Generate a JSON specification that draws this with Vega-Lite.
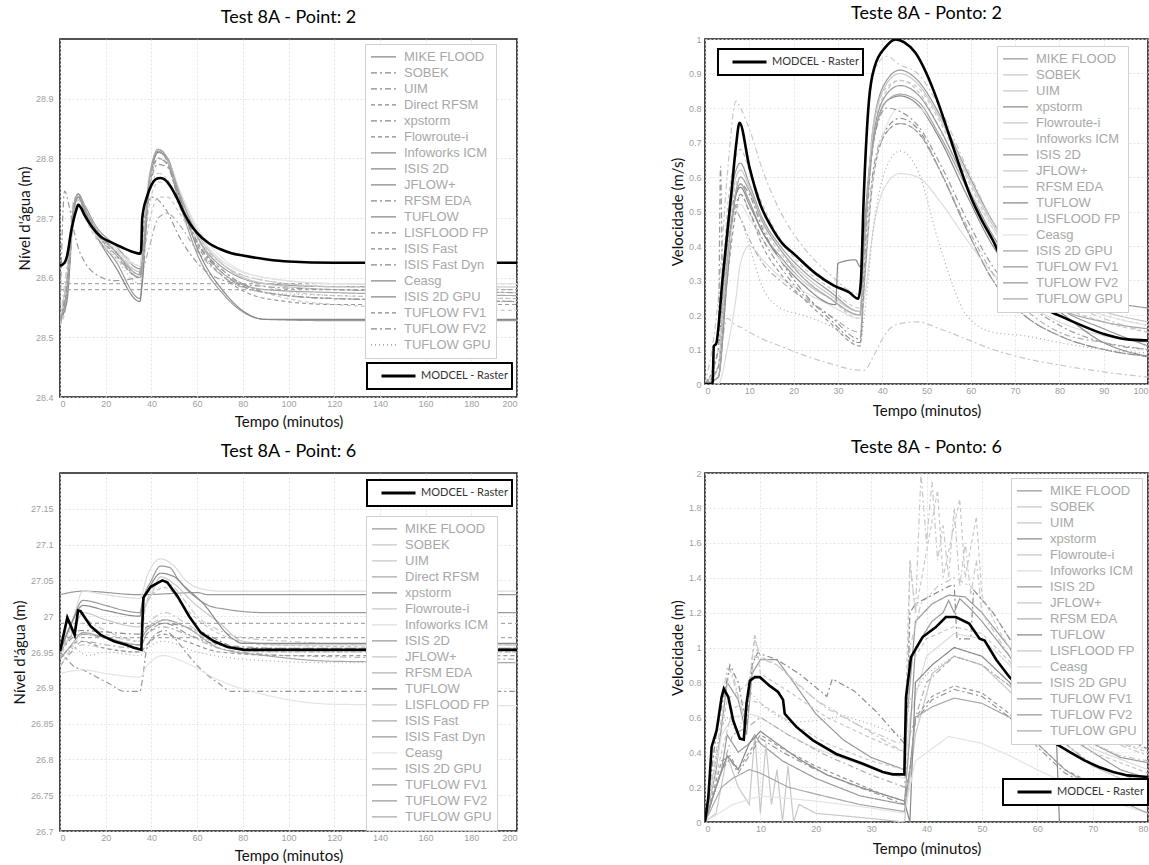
{
"$schema":"https://vega.github.io/schema/vega-lite/v6.json",
"padding":{"left":11,"top":4,"right":0,"bottom":0},
"columns":2,
"spacing":{"row":8,"column":151},
"datasets":{
"p1":[
{"m":"MIKE FLOOD","t":0,"v":28.52},{"m":"MIKE FLOOD","t":3,"v":28.58},{"m":"MIKE FLOOD","t":6,"v":28.72},{"m":"MIKE FLOOD","t":8,"v":28.74},{"m":"MIKE FLOOD","t":11,"v":28.72},{"m":"MIKE FLOOD","t":16,"v":28.685},{"m":"MIKE FLOOD","t":24,"v":28.655},{"m":"MIKE FLOOD","t":35,"v":28.615},{"m":"MIKE FLOOD","t":36,"v":28.64},{"m":"MIKE FLOOD","t":39,"v":28.76},{"m":"MIKE FLOOD","t":43,"v":28.815},{"m":"MIKE FLOOD","t":47,"v":28.8},{"m":"MIKE FLOOD","t":52,"v":28.745},{"m":"MIKE FLOOD","t":60,"v":28.67},{"m":"MIKE FLOOD","t":72,"v":28.615},{"m":"MIKE FLOOD","t":90,"v":28.59},{"m":"MIKE FLOOD","t":120,"v":28.585},{"m":"MIKE FLOOD","t":200,"v":28.585},
{"m":"SOBEK","t":0,"v":28.53},{"m":"SOBEK","t":3,"v":28.6},{"m":"SOBEK","t":6,"v":28.73},{"m":"SOBEK","t":8,"v":28.74},{"m":"SOBEK","t":11,"v":28.715},{"m":"SOBEK","t":16,"v":28.68},{"m":"SOBEK","t":24,"v":28.65},{"m":"SOBEK","t":35,"v":28.61},{"m":"SOBEK","t":36,"v":28.64},{"m":"SOBEK","t":39,"v":28.75},{"m":"SOBEK","t":43,"v":28.8},{"m":"SOBEK","t":47,"v":28.79},{"m":"SOBEK","t":52,"v":28.74},{"m":"SOBEK","t":60,"v":28.675},{"m":"SOBEK","t":72,"v":28.62},{"m":"SOBEK","t":90,"v":28.595},{"m":"SOBEK","t":120,"v":28.585},{"m":"SOBEK","t":200,"v":28.58},
{"m":"UIM","t":0,"v":28.53},{"m":"UIM","t":3,"v":28.62},{"m":"UIM","t":6,"v":28.72},{"m":"UIM","t":8,"v":28.73},{"m":"UIM","t":11,"v":28.71},{"m":"UIM","t":16,"v":28.68},{"m":"UIM","t":24,"v":28.655},{"m":"UIM","t":35,"v":28.62},{"m":"UIM","t":36,"v":28.64},{"m":"UIM","t":39,"v":28.74},{"m":"UIM","t":43,"v":28.775},{"m":"UIM","t":47,"v":28.765},{"m":"UIM","t":52,"v":28.72},{"m":"UIM","t":60,"v":28.665},{"m":"UIM","t":72,"v":28.62},{"m":"UIM","t":90,"v":28.595},{"m":"UIM","t":120,"v":28.585},{"m":"UIM","t":200,"v":28.585},
{"m":"Direct RFSM","t":0,"v":28.59},{"m":"Direct RFSM","t":200,"v":28.59},
{"m":"xpstorm","t":0,"v":28.53},{"m":"xpstorm","t":3,"v":28.59},{"m":"xpstorm","t":6,"v":28.72},{"m":"xpstorm","t":8,"v":28.735},{"m":"xpstorm","t":11,"v":28.71},{"m":"xpstorm","t":16,"v":28.675},{"m":"xpstorm","t":24,"v":28.645},{"m":"xpstorm","t":35,"v":28.605},{"m":"xpstorm","t":36,"v":28.63},{"m":"xpstorm","t":39,"v":28.75},{"m":"xpstorm","t":43,"v":28.8},{"m":"xpstorm","t":47,"v":28.79},{"m":"xpstorm","t":52,"v":28.735},{"m":"xpstorm","t":60,"v":28.66},{"m":"xpstorm","t":72,"v":28.605},{"m":"xpstorm","t":90,"v":28.575},{"m":"xpstorm","t":120,"v":28.565},{"m":"xpstorm","t":200,"v":28.56},
{"m":"Flowroute-i","t":0,"v":28.52},{"m":"Flowroute-i","t":3,"v":28.56},{"m":"Flowroute-i","t":6,"v":28.7},{"m":"Flowroute-i","t":8,"v":28.73},{"m":"Flowroute-i","t":11,"v":28.71},{"m":"Flowroute-i","t":16,"v":28.675},{"m":"Flowroute-i","t":24,"v":28.645},{"m":"Flowroute-i","t":35,"v":28.605},{"m":"Flowroute-i","t":36,"v":28.62},{"m":"Flowroute-i","t":39,"v":28.72},{"m":"Flowroute-i","t":43,"v":28.76},{"m":"Flowroute-i","t":47,"v":28.76},{"m":"Flowroute-i","t":52,"v":28.73},{"m":"Flowroute-i","t":60,"v":28.67},{"m":"Flowroute-i","t":72,"v":28.62},{"m":"Flowroute-i","t":90,"v":28.585},{"m":"Flowroute-i","t":120,"v":28.57},{"m":"Flowroute-i","t":200,"v":28.565},
{"m":"Infoworks ICM","t":0,"v":28.53},{"m":"Infoworks ICM","t":3,"v":28.6},{"m":"Infoworks ICM","t":6,"v":28.72},{"m":"Infoworks ICM","t":8,"v":28.735},{"m":"Infoworks ICM","t":11,"v":28.715},{"m":"Infoworks ICM","t":16,"v":28.68},{"m":"Infoworks ICM","t":24,"v":28.65},{"m":"Infoworks ICM","t":35,"v":28.62},{"m":"Infoworks ICM","t":36,"v":28.65},{"m":"Infoworks ICM","t":39,"v":28.77},{"m":"Infoworks ICM","t":43,"v":28.81},{"m":"Infoworks ICM","t":47,"v":28.8},{"m":"Infoworks ICM","t":52,"v":28.75},{"m":"Infoworks ICM","t":60,"v":28.68},{"m":"Infoworks ICM","t":72,"v":28.625},{"m":"Infoworks ICM","t":90,"v":28.6},{"m":"Infoworks ICM","t":120,"v":28.59},{"m":"Infoworks ICM","t":200,"v":28.585},
{"m":"ISIS 2D","t":0,"v":28.53},{"m":"ISIS 2D","t":3,"v":28.57},{"m":"ISIS 2D","t":6,"v":28.72},{"m":"ISIS 2D","t":8,"v":28.74},{"m":"ISIS 2D","t":11,"v":28.71},{"m":"ISIS 2D","t":16,"v":28.67},{"m":"ISIS 2D","t":24,"v":28.63},{"m":"ISIS 2D","t":35,"v":28.565},{"m":"ISIS 2D","t":36,"v":28.6},{"m":"ISIS 2D","t":39,"v":28.76},{"m":"ISIS 2D","t":43,"v":28.812},{"m":"ISIS 2D","t":47,"v":28.795},{"m":"ISIS 2D","t":52,"v":28.73},{"m":"ISIS 2D","t":60,"v":28.64},{"m":"ISIS 2D","t":72,"v":28.57},{"m":"ISIS 2D","t":90,"v":28.53},{"m":"ISIS 2D","t":120,"v":28.528},{"m":"ISIS 2D","t":200,"v":28.528},
{"m":"JFLOW+","t":0,"v":28.53},{"m":"JFLOW+","t":3,"v":28.6},{"m":"JFLOW+","t":6,"v":28.72},{"m":"JFLOW+","t":8,"v":28.735},{"m":"JFLOW+","t":11,"v":28.71},{"m":"JFLOW+","t":16,"v":28.675},{"m":"JFLOW+","t":24,"v":28.645},{"m":"JFLOW+","t":35,"v":28.61},{"m":"JFLOW+","t":36,"v":28.64},{"m":"JFLOW+","t":39,"v":28.76},{"m":"JFLOW+","t":43,"v":28.81},{"m":"JFLOW+","t":47,"v":28.8},{"m":"JFLOW+","t":52,"v":28.745},{"m":"JFLOW+","t":60,"v":28.675},{"m":"JFLOW+","t":72,"v":28.62},{"m":"JFLOW+","t":90,"v":28.59},{"m":"JFLOW+","t":120,"v":28.58},{"m":"JFLOW+","t":200,"v":28.575},
{"m":"RFSM EDA","t":0,"v":28.52},{"m":"RFSM EDA","t":3,"v":28.6},{"m":"RFSM EDA","t":6,"v":28.7},{"m":"RFSM EDA","t":8,"v":28.72},{"m":"RFSM EDA","t":11,"v":28.7},{"m":"RFSM EDA","t":16,"v":28.67},{"m":"RFSM EDA","t":24,"v":28.64},{"m":"RFSM EDA","t":35,"v":28.6},{"m":"RFSM EDA","t":36,"v":28.61},{"m":"RFSM EDA","t":39,"v":28.65},{"m":"RFSM EDA","t":43,"v":28.7},{"m":"RFSM EDA","t":47,"v":28.708},{"m":"RFSM EDA","t":52,"v":28.69},{"m":"RFSM EDA","t":60,"v":28.645},{"m":"RFSM EDA","t":72,"v":28.6},{"m":"RFSM EDA","t":90,"v":28.575},{"m":"RFSM EDA","t":120,"v":28.565},{"m":"RFSM EDA","t":200,"v":28.56},
{"m":"TUFLOW","t":0,"v":28.53},{"m":"TUFLOW","t":3,"v":28.56},{"m":"TUFLOW","t":6,"v":28.71},{"m":"TUFLOW","t":8,"v":28.735},{"m":"TUFLOW","t":11,"v":28.71},{"m":"TUFLOW","t":16,"v":28.67},{"m":"TUFLOW","t":24,"v":28.62},{"m":"TUFLOW","t":35,"v":28.56},{"m":"TUFLOW","t":36,"v":28.59},{"m":"TUFLOW","t":39,"v":28.75},{"m":"TUFLOW","t":43,"v":28.81},{"m":"TUFLOW","t":47,"v":28.8},{"m":"TUFLOW","t":52,"v":28.74},{"m":"TUFLOW","t":60,"v":28.65},{"m":"TUFLOW","t":72,"v":28.575},{"m":"TUFLOW","t":90,"v":28.53},{"m":"TUFLOW","t":120,"v":28.53},{"m":"TUFLOW","t":200,"v":28.53},
{"m":"LISFLOOD FP","t":0,"v":28.52},{"m":"LISFLOOD FP","t":3,"v":28.58},{"m":"LISFLOOD FP","t":6,"v":28.71},{"m":"LISFLOOD FP","t":8,"v":28.73},{"m":"LISFLOOD FP","t":11,"v":28.7},{"m":"LISFLOOD FP","t":16,"v":28.665},{"m":"LISFLOOD FP","t":24,"v":28.635},{"m":"LISFLOOD FP","t":35,"v":28.6},{"m":"LISFLOOD FP","t":36,"v":28.62},{"m":"LISFLOOD FP","t":39,"v":28.69},{"m":"LISFLOOD FP","t":43,"v":28.735},{"m":"LISFLOOD FP","t":47,"v":28.735},{"m":"LISFLOOD FP","t":52,"v":28.71},{"m":"LISFLOOD FP","t":60,"v":28.66},{"m":"LISFLOOD FP","t":72,"v":28.61},{"m":"LISFLOOD FP","t":90,"v":28.575},{"m":"LISFLOOD FP","t":120,"v":28.555},{"m":"LISFLOOD FP","t":200,"v":28.545},
{"m":"ISIS Fast","t":0,"v":28.58},{"m":"ISIS Fast","t":200,"v":28.58},
{"m":"ISIS Fast Dyn","t":0,"v":28.53},{"m":"ISIS Fast Dyn","t":2,"v":28.745},{"m":"ISIS Fast Dyn","t":4,"v":28.72},{"m":"ISIS Fast Dyn","t":6,"v":28.68},{"m":"ISIS Fast Dyn","t":8,"v":28.65},{"m":"ISIS Fast Dyn","t":11,"v":28.625},{"m":"ISIS Fast Dyn","t":16,"v":28.605},{"m":"ISIS Fast Dyn","t":24,"v":28.595},{"m":"ISIS Fast Dyn","t":33,"v":28.6},{"m":"ISIS Fast Dyn","t":35,"v":28.61},{"m":"ISIS Fast Dyn","t":37,"v":28.7},{"m":"ISIS Fast Dyn","t":40,"v":28.735},{"m":"ISIS Fast Dyn","t":43,"v":28.73},{"m":"ISIS Fast Dyn","t":47,"v":28.71},{"m":"ISIS Fast Dyn","t":52,"v":28.67},{"m":"ISIS Fast Dyn","t":60,"v":28.625},{"m":"ISIS Fast Dyn","t":72,"v":28.595},{"m":"ISIS Fast Dyn","t":90,"v":28.585},{"m":"ISIS Fast Dyn","t":120,"v":28.58},{"m":"ISIS Fast Dyn","t":200,"v":28.575},
{"m":"Ceasg","t":0,"v":28.53},{"m":"Ceasg","t":3,"v":28.59},{"m":"Ceasg","t":6,"v":28.7},{"m":"Ceasg","t":8,"v":28.725},{"m":"Ceasg","t":11,"v":28.7},{"m":"Ceasg","t":16,"v":28.67},{"m":"Ceasg","t":24,"v":28.645},{"m":"Ceasg","t":35,"v":28.62},{"m":"Ceasg","t":36,"v":28.64},{"m":"Ceasg","t":39,"v":28.75},{"m":"Ceasg","t":43,"v":28.8},{"m":"Ceasg","t":47,"v":28.795},{"m":"Ceasg","t":52,"v":28.75},{"m":"Ceasg","t":60,"v":28.685},{"m":"Ceasg","t":72,"v":28.63},{"m":"Ceasg","t":90,"v":28.6},{"m":"Ceasg","t":120,"v":28.59},{"m":"Ceasg","t":200,"v":28.59},
{"m":"ISIS 2D GPU","t":0,"v":28.53},{"m":"ISIS 2D GPU","t":3,"v":28.58},{"m":"ISIS 2D GPU","t":6,"v":28.72},{"m":"ISIS 2D GPU","t":8,"v":28.74},{"m":"ISIS 2D GPU","t":11,"v":28.715},{"m":"ISIS 2D GPU","t":16,"v":28.68},{"m":"ISIS 2D GPU","t":24,"v":28.645},{"m":"ISIS 2D GPU","t":35,"v":28.605},{"m":"ISIS 2D GPU","t":36,"v":28.63},{"m":"ISIS 2D GPU","t":39,"v":28.765},{"m":"ISIS 2D GPU","t":43,"v":28.815},{"m":"ISIS 2D GPU","t":47,"v":28.8},{"m":"ISIS 2D GPU","t":52,"v":28.745},{"m":"ISIS 2D GPU","t":60,"v":28.67},{"m":"ISIS 2D GPU","t":72,"v":28.605},{"m":"ISIS 2D GPU","t":90,"v":28.58},{"m":"ISIS 2D GPU","t":120,"v":28.575},{"m":"ISIS 2D GPU","t":200,"v":28.57},
{"m":"TUFLOW FV1","t":0,"v":28.53},{"m":"TUFLOW FV1","t":3,"v":28.58},{"m":"TUFLOW FV1","t":6,"v":28.71},{"m":"TUFLOW FV1","t":8,"v":28.735},{"m":"TUFLOW FV1","t":11,"v":28.71},{"m":"TUFLOW FV1","t":16,"v":28.675},{"m":"TUFLOW FV1","t":24,"v":28.64},{"m":"TUFLOW FV1","t":35,"v":28.6},{"m":"TUFLOW FV1","t":36,"v":28.62},{"m":"TUFLOW FV1","t":39,"v":28.75},{"m":"TUFLOW FV1","t":43,"v":28.8},{"m":"TUFLOW FV1","t":47,"v":28.79},{"m":"TUFLOW FV1","t":52,"v":28.73},{"m":"TUFLOW FV1","t":60,"v":28.655},{"m":"TUFLOW FV1","t":72,"v":28.6},{"m":"TUFLOW FV1","t":90,"v":28.565},{"m":"TUFLOW FV1","t":120,"v":28.555},{"m":"TUFLOW FV1","t":200,"v":28.555},
{"m":"TUFLOW FV2","t":0,"v":28.53},{"m":"TUFLOW FV2","t":3,"v":28.59},{"m":"TUFLOW FV2","t":6,"v":28.715},{"m":"TUFLOW FV2","t":8,"v":28.74},{"m":"TUFLOW FV2","t":11,"v":28.715},{"m":"TUFLOW FV2","t":16,"v":28.68},{"m":"TUFLOW FV2","t":24,"v":28.645},{"m":"TUFLOW FV2","t":35,"v":28.6},{"m":"TUFLOW FV2","t":36,"v":28.625},{"m":"TUFLOW FV2","t":39,"v":28.745},{"m":"TUFLOW FV2","t":43,"v":28.79},{"m":"TUFLOW FV2","t":47,"v":28.785},{"m":"TUFLOW FV2","t":52,"v":28.73},{"m":"TUFLOW FV2","t":60,"v":28.66},{"m":"TUFLOW FV2","t":72,"v":28.61},{"m":"TUFLOW FV2","t":90,"v":28.575},{"m":"TUFLOW FV2","t":120,"v":28.565},{"m":"TUFLOW FV2","t":200,"v":28.56},
{"m":"TUFLOW GPU","t":0,"v":28.53},{"m":"TUFLOW GPU","t":3,"v":28.57},{"m":"TUFLOW GPU","t":6,"v":28.71},{"m":"TUFLOW GPU","t":8,"v":28.735},{"m":"TUFLOW GPU","t":11,"v":28.71},{"m":"TUFLOW GPU","t":16,"v":28.675},{"m":"TUFLOW GPU","t":24,"v":28.635},{"m":"TUFLOW GPU","t":35,"v":28.59},{"m":"TUFLOW GPU","t":36,"v":28.62},{"m":"TUFLOW GPU","t":39,"v":28.76},{"m":"TUFLOW GPU","t":43,"v":28.81},{"m":"TUFLOW GPU","t":47,"v":28.795},{"m":"TUFLOW GPU","t":52,"v":28.74},{"m":"TUFLOW GPU","t":60,"v":28.66},{"m":"TUFLOW GPU","t":72,"v":28.6},{"m":"TUFLOW GPU","t":90,"v":28.575},{"m":"TUFLOW GPU","t":120,"v":28.57},{"m":"TUFLOW GPU","t":200,"v":28.565},
{"m":"MODCEL - Raster","t":0,"v":28.62},{"m":"MODCEL - Raster","t":2,"v":28.625},{"m":"MODCEL - Raster","t":3,"v":28.635},{"m":"MODCEL - Raster","t":5,"v":28.68},{"m":"MODCEL - Raster","t":7,"v":28.712},{"m":"MODCEL - Raster","t":8,"v":28.722},{"m":"MODCEL - Raster","t":9,"v":28.718},{"m":"MODCEL - Raster","t":11,"v":28.703},{"m":"MODCEL - Raster","t":14,"v":28.685},{"m":"MODCEL - Raster","t":18,"v":28.668},{"m":"MODCEL - Raster","t":22,"v":28.66},{"m":"MODCEL - Raster","t":27,"v":28.651},{"m":"MODCEL - Raster","t":32,"v":28.643},{"m":"MODCEL - Raster","t":35,"v":28.64},{"m":"MODCEL - Raster","t":35.5,"v":28.645},{"m":"MODCEL - Raster","t":36,"v":28.7},{"m":"MODCEL - Raster","t":38,"v":28.735},{"m":"MODCEL - Raster","t":40,"v":28.755},{"m":"MODCEL - Raster","t":42,"v":28.765},{"m":"MODCEL - Raster","t":44,"v":28.767},{"m":"MODCEL - Raster","t":46,"v":28.764},{"m":"MODCEL - Raster","t":48,"v":28.755},{"m":"MODCEL - Raster","t":51,"v":28.735},{"m":"MODCEL - Raster","t":54,"v":28.71},{"m":"MODCEL - Raster","t":57,"v":28.69},{"m":"MODCEL - Raster","t":60,"v":28.675},{"m":"MODCEL - Raster","t":65,"v":28.658},{"m":"MODCEL - Raster","t":70,"v":28.648},{"m":"MODCEL - Raster","t":75,"v":28.641},{"m":"MODCEL - Raster","t":80,"v":28.637},{"m":"MODCEL - Raster","t":90,"v":28.631},{"m":"MODCEL - Raster","t":100,"v":28.627},{"m":"MODCEL - Raster","t":120,"v":28.625},{"m":"MODCEL - Raster","t":200,"v":28.625}
],
"p2":[
{"m":"MIKE FLOOD","t":0,"v":0},{"m":"MIKE FLOOD","t":3,"v":0.05},{"m":"MIKE FLOOD","t":5,"v":0.45},{"m":"MIKE FLOOD","t":7,"v":0.62},{"m":"MIKE FLOOD","t":8,"v":0.64},{"m":"MIKE FLOOD","t":10,"v":0.58},{"m":"MIKE FLOOD","t":13,"v":0.48},{"m":"MIKE FLOOD","t":17,"v":0.4},{"m":"MIKE FLOOD","t":22,"v":0.33},{"m":"MIKE FLOOD","t":28,"v":0.27},{"m":"MIKE FLOOD","t":35,"v":0.21},{"m":"MIKE FLOOD","t":36,"v":0.4},{"m":"MIKE FLOOD","t":38,"v":0.75},{"m":"MIKE FLOOD","t":41,"v":0.88},{"m":"MIKE FLOOD","t":44,"v":0.91},{"m":"MIKE FLOOD","t":48,"v":0.88},{"m":"MIKE FLOOD","t":53,"v":0.78},{"m":"MIKE FLOOD","t":59,"v":0.62},{"m":"MIKE FLOOD","t":65,"v":0.47},{"m":"MIKE FLOOD","t":72,"v":0.35},{"m":"MIKE FLOOD","t":80,"v":0.27},{"m":"MIKE FLOOD","t":90,"v":0.24},{"m":"MIKE FLOOD","t":100,"v":0.22},
{"m":"SOBEK","t":0,"v":0},{"m":"SOBEK","t":3,"v":0.25},{"m":"SOBEK","t":5,"v":0.6},{"m":"SOBEK","t":7,"v":0.82},{"m":"SOBEK","t":8,"v":0.8},{"m":"SOBEK","t":10,"v":0.74},{"m":"SOBEK","t":13,"v":0.62},{"m":"SOBEK","t":17,"v":0.5},{"m":"SOBEK","t":22,"v":0.4},{"m":"SOBEK","t":28,"v":0.32},{"m":"SOBEK","t":35,"v":0.26},{"m":"SOBEK","t":36,"v":0.6},{"m":"SOBEK","t":38,"v":0.9},{"m":"SOBEK","t":41,"v":0.95},{"m":"SOBEK","t":44,"v":0.925},{"m":"SOBEK","t":48,"v":0.9},{"m":"SOBEK","t":53,"v":0.8},{"m":"SOBEK","t":59,"v":0.63},{"m":"SOBEK","t":65,"v":0.47},{"m":"SOBEK","t":72,"v":0.34},{"m":"SOBEK","t":80,"v":0.25},{"m":"SOBEK","t":90,"v":0.19},{"m":"SOBEK","t":100,"v":0.15},
{"m":"UIM","t":0,"v":0},{"m":"UIM","t":3,"v":0.05},{"m":"UIM","t":5,"v":0.19},{"m":"UIM","t":7,"v":0.17},{"m":"UIM","t":8,"v":0.165},{"m":"UIM","t":10,"v":0.15},{"m":"UIM","t":13,"v":0.13},{"m":"UIM","t":17,"v":0.11},{"m":"UIM","t":22,"v":0.085},{"m":"UIM","t":28,"v":0.06},{"m":"UIM","t":35,"v":0.04},{"m":"UIM","t":36,"v":0.04},{"m":"UIM","t":38,"v":0.08},{"m":"UIM","t":41,"v":0.15},{"m":"UIM","t":44,"v":0.175},{"m":"UIM","t":48,"v":0.18},{"m":"UIM","t":53,"v":0.16},{"m":"UIM","t":59,"v":0.13},{"m":"UIM","t":65,"v":0.1},{"m":"UIM","t":72,"v":0.075},{"m":"UIM","t":80,"v":0.055},{"m":"UIM","t":90,"v":0.035},{"m":"UIM","t":100,"v":0.02},
{"m":"xpstorm","t":0,"v":0},{"m":"xpstorm","t":3,"v":0.1},{"m":"xpstorm","t":5,"v":0.45},{"m":"xpstorm","t":7,"v":0.55},{"m":"xpstorm","t":8,"v":0.58},{"m":"xpstorm","t":10,"v":0.55},{"m":"xpstorm","t":13,"v":0.45},{"m":"xpstorm","t":17,"v":0.36},{"m":"xpstorm","t":22,"v":0.27},{"m":"xpstorm","t":28,"v":0.19},{"m":"xpstorm","t":35,"v":0.12},{"m":"xpstorm","t":36,"v":0.3},{"m":"xpstorm","t":38,"v":0.62},{"m":"xpstorm","t":41,"v":0.74},{"m":"xpstorm","t":44,"v":0.77},{"m":"xpstorm","t":48,"v":0.74},{"m":"xpstorm","t":53,"v":0.62},{"m":"xpstorm","t":59,"v":0.45},{"m":"xpstorm","t":65,"v":0.3},{"m":"xpstorm","t":72,"v":0.2},{"m":"xpstorm","t":80,"v":0.14},{"m":"xpstorm","t":90,"v":0.1},{"m":"xpstorm","t":100,"v":0.08},
{"m":"Flowroute-i","t":0,"v":0},{"m":"Flowroute-i","t":3,"v":0.1},{"m":"Flowroute-i","t":5,"v":0.4},{"m":"Flowroute-i","t":7,"v":0.58},{"m":"Flowroute-i","t":8,"v":0.6},{"m":"Flowroute-i","t":10,"v":0.56},{"m":"Flowroute-i","t":13,"v":0.46},{"m":"Flowroute-i","t":17,"v":0.38},{"m":"Flowroute-i","t":22,"v":0.31},{"m":"Flowroute-i","t":28,"v":0.25},{"m":"Flowroute-i","t":35,"v":0.19},{"m":"Flowroute-i","t":36,"v":0.4},{"m":"Flowroute-i","t":38,"v":0.72},{"m":"Flowroute-i","t":41,"v":0.85},{"m":"Flowroute-i","t":44,"v":0.88},{"m":"Flowroute-i","t":48,"v":0.85},{"m":"Flowroute-i","t":53,"v":0.74},{"m":"Flowroute-i","t":59,"v":0.58},{"m":"Flowroute-i","t":65,"v":0.43},{"m":"Flowroute-i","t":72,"v":0.31},{"m":"Flowroute-i","t":80,"v":0.23},{"m":"Flowroute-i","t":90,"v":0.18},{"m":"Flowroute-i","t":100,"v":0.15},
{"m":"Infoworks ICM","t":0,"v":0},{"m":"Infoworks ICM","t":3,"v":0},{"m":"Infoworks ICM","t":5,"v":0.1},{"m":"Infoworks ICM","t":7,"v":0.25},{"m":"Infoworks ICM","t":8,"v":0.35},{"m":"Infoworks ICM","t":10,"v":0.4},{"m":"Infoworks ICM","t":13,"v":0.36},{"m":"Infoworks ICM","t":17,"v":0.31},{"m":"Infoworks ICM","t":22,"v":0.27},{"m":"Infoworks ICM","t":28,"v":0.23},{"m":"Infoworks ICM","t":35,"v":0.19},{"m":"Infoworks ICM","t":36,"v":0.25},{"m":"Infoworks ICM","t":38,"v":0.45},{"m":"Infoworks ICM","t":41,"v":0.58},{"m":"Infoworks ICM","t":44,"v":0.61},{"m":"Infoworks ICM","t":48,"v":0.6},{"m":"Infoworks ICM","t":53,"v":0.53},{"m":"Infoworks ICM","t":59,"v":0.42},{"m":"Infoworks ICM","t":65,"v":0.32},{"m":"Infoworks ICM","t":72,"v":0.24},{"m":"Infoworks ICM","t":80,"v":0.18},{"m":"Infoworks ICM","t":90,"v":0.14},{"m":"Infoworks ICM","t":100,"v":0.12},
{"m":"ISIS 2D","t":0,"v":0},{"m":"ISIS 2D","t":3,"v":0.02},{"m":"ISIS 2D","t":5,"v":0.35},{"m":"ISIS 2D","t":7,"v":0.55},{"m":"ISIS 2D","t":8,"v":0.58},{"m":"ISIS 2D","t":10,"v":0.53},{"m":"ISIS 2D","t":13,"v":0.44},{"m":"ISIS 2D","t":17,"v":0.37},{"m":"ISIS 2D","t":22,"v":0.3},{"m":"ISIS 2D","t":28,"v":0.25},{"m":"ISIS 2D","t":35,"v":0.2},{"m":"ISIS 2D","t":36,"v":0.45},{"m":"ISIS 2D","t":38,"v":0.72},{"m":"ISIS 2D","t":41,"v":0.84},{"m":"ISIS 2D","t":44,"v":0.865},{"m":"ISIS 2D","t":48,"v":0.84},{"m":"ISIS 2D","t":53,"v":0.74},{"m":"ISIS 2D","t":59,"v":0.58},{"m":"ISIS 2D","t":65,"v":0.43},{"m":"ISIS 2D","t":72,"v":0.31},{"m":"ISIS 2D","t":80,"v":0.22},{"m":"ISIS 2D","t":90,"v":0.16},{"m":"ISIS 2D","t":100,"v":0.11},
{"m":"JFLOW+","t":0,"v":0},{"m":"JFLOW+","t":3,"v":0.05},{"m":"JFLOW+","t":5,"v":0.4},{"m":"JFLOW+","t":7,"v":0.6},{"m":"JFLOW+","t":8,"v":0.62},{"m":"JFLOW+","t":10,"v":0.57},{"m":"JFLOW+","t":13,"v":0.47},{"m":"JFLOW+","t":17,"v":0.39},{"m":"JFLOW+","t":22,"v":0.32},{"m":"JFLOW+","t":28,"v":0.26},{"m":"JFLOW+","t":35,"v":0.21},{"m":"JFLOW+","t":36,"v":0.4},{"m":"JFLOW+","t":38,"v":0.74},{"m":"JFLOW+","t":41,"v":0.87},{"m":"JFLOW+","t":44,"v":0.9},{"m":"JFLOW+","t":48,"v":0.87},{"m":"JFLOW+","t":53,"v":0.77},{"m":"JFLOW+","t":59,"v":0.61},{"m":"JFLOW+","t":65,"v":0.46},{"m":"JFLOW+","t":72,"v":0.34},{"m":"JFLOW+","t":80,"v":0.26},{"m":"JFLOW+","t":90,"v":0.21},{"m":"JFLOW+","t":100,"v":0.18},
{"m":"RFSM EDA","t":0,"v":0},{"m":"RFSM EDA","t":3,"v":0.05},{"m":"RFSM EDA","t":5,"v":0.42},{"m":"RFSM EDA","t":7,"v":0.5},{"m":"RFSM EDA","t":8,"v":0.48},{"m":"RFSM EDA","t":10,"v":0.42},{"m":"RFSM EDA","t":13,"v":0.35},{"m":"RFSM EDA","t":17,"v":0.3},{"m":"RFSM EDA","t":22,"v":0.25},{"m":"RFSM EDA","t":28,"v":0.2},{"m":"RFSM EDA","t":35,"v":0.15},{"m":"RFSM EDA","t":36,"v":0.3},{"m":"RFSM EDA","t":38,"v":0.6},{"m":"RFSM EDA","t":41,"v":0.73},{"m":"RFSM EDA","t":44,"v":0.755},{"m":"RFSM EDA","t":48,"v":0.73},{"m":"RFSM EDA","t":53,"v":0.62},{"m":"RFSM EDA","t":59,"v":0.46},{"m":"RFSM EDA","t":65,"v":0.32},{"m":"RFSM EDA","t":72,"v":0.22},{"m":"RFSM EDA","t":80,"v":0.15},{"m":"RFSM EDA","t":90,"v":0.12},{"m":"RFSM EDA","t":100,"v":0.1},
{"m":"TUFLOW","t":0,"v":0},{"m":"TUFLOW","t":3,"v":0.02},{"m":"TUFLOW","t":5,"v":0.3},{"m":"TUFLOW","t":7,"v":0.55},{"m":"TUFLOW","t":8,"v":0.57},{"m":"TUFLOW","t":10,"v":0.52},{"m":"TUFLOW","t":13,"v":0.44},{"m":"TUFLOW","t":17,"v":0.36},{"m":"TUFLOW","t":22,"v":0.29},{"m":"TUFLOW","t":29.5,"v":0.23},{"m":"TUFLOW","t":30,"v":0.35},{"m":"TUFLOW","t":34,"v":0.36},{"m":"TUFLOW","t":35,"v":0.34},{"m":"TUFLOW","t":36,"v":0.45},{"m":"TUFLOW","t":38,"v":0.7},{"m":"TUFLOW","t":41,"v":0.82},{"m":"TUFLOW","t":44,"v":0.835},{"m":"TUFLOW","t":48,"v":0.81},{"m":"TUFLOW","t":53,"v":0.71},{"m":"TUFLOW","t":59,"v":0.55},{"m":"TUFLOW","t":65,"v":0.4},{"m":"TUFLOW","t":72,"v":0.29},{"m":"TUFLOW","t":80,"v":0.21},{"m":"TUFLOW","t":90,"v":0.12},{"m":"TUFLOW","t":100,"v":0.08},
{"m":"LISFLOOD FP","t":0,"v":0},{"m":"LISFLOOD FP","t":3,"v":0.1},{"m":"LISFLOOD FP","t":5,"v":0.5},{"m":"LISFLOOD FP","t":7,"v":0.66},{"m":"LISFLOOD FP","t":8,"v":0.68},{"m":"LISFLOOD FP","t":10,"v":0.62},{"m":"LISFLOOD FP","t":13,"v":0.52},{"m":"LISFLOOD FP","t":17,"v":0.42},{"m":"LISFLOOD FP","t":22,"v":0.34},{"m":"LISFLOOD FP","t":28,"v":0.28},{"m":"LISFLOOD FP","t":35,"v":0.22},{"m":"LISFLOOD FP","t":36,"v":0.4},{"m":"LISFLOOD FP","t":38,"v":0.75},{"m":"LISFLOOD FP","t":41,"v":0.86},{"m":"LISFLOOD FP","t":44,"v":0.88},{"m":"LISFLOOD FP","t":48,"v":0.86},{"m":"LISFLOOD FP","t":53,"v":0.76},{"m":"LISFLOOD FP","t":59,"v":0.6},{"m":"LISFLOOD FP","t":65,"v":0.45},{"m":"LISFLOOD FP","t":72,"v":0.33},{"m":"LISFLOOD FP","t":80,"v":0.25},{"m":"LISFLOOD FP","t":90,"v":0.2},{"m":"LISFLOOD FP","t":100,"v":0.17},
{"m":"Ceasg","t":0,"v":0},{"m":"Ceasg","t":3,"v":0.05},{"m":"Ceasg","t":5,"v":0.35},{"m":"Ceasg","t":7,"v":0.5},{"m":"Ceasg","t":8,"v":0.52},{"m":"Ceasg","t":10,"v":0.48},{"m":"Ceasg","t":13,"v":0.42},{"m":"Ceasg","t":17,"v":0.36},{"m":"Ceasg","t":22,"v":0.3},{"m":"Ceasg","t":28,"v":0.25},{"m":"Ceasg","t":35,"v":0.2},{"m":"Ceasg","t":36,"v":0.35},{"m":"Ceasg","t":38,"v":0.6},{"m":"Ceasg","t":41,"v":0.75},{"m":"Ceasg","t":44,"v":0.8},{"m":"Ceasg","t":48,"v":0.8},{"m":"Ceasg","t":53,"v":0.72},{"m":"Ceasg","t":59,"v":0.58},{"m":"Ceasg","t":65,"v":0.45},{"m":"Ceasg","t":72,"v":0.33},{"m":"Ceasg","t":80,"v":0.25},{"m":"Ceasg","t":90,"v":0.2},{"m":"Ceasg","t":100,"v":0.17},
{"m":"ISIS 2D GPU","t":0,"v":0},{"m":"ISIS 2D GPU","t":3,"v":0.02},{"m":"ISIS 2D GPU","t":5,"v":0.35},{"m":"ISIS 2D GPU","t":7,"v":0.56},{"m":"ISIS 2D GPU","t":8,"v":0.6},{"m":"ISIS 2D GPU","t":10,"v":0.56},{"m":"ISIS 2D GPU","t":13,"v":0.47},{"m":"ISIS 2D GPU","t":17,"v":0.39},{"m":"ISIS 2D GPU","t":22,"v":0.31},{"m":"ISIS 2D GPU","t":28,"v":0.25},{"m":"ISIS 2D GPU","t":35,"v":0.2},{"m":"ISIS 2D GPU","t":36,"v":0.42},{"m":"ISIS 2D GPU","t":38,"v":0.7},{"m":"ISIS 2D GPU","t":41,"v":0.82},{"m":"ISIS 2D GPU","t":44,"v":0.84},{"m":"ISIS 2D GPU","t":48,"v":0.82},{"m":"ISIS 2D GPU","t":53,"v":0.72},{"m":"ISIS 2D GPU","t":59,"v":0.57},{"m":"ISIS 2D GPU","t":65,"v":0.42},{"m":"ISIS 2D GPU","t":72,"v":0.3},{"m":"ISIS 2D GPU","t":80,"v":0.22},{"m":"ISIS 2D GPU","t":90,"v":0.18},{"m":"ISIS 2D GPU","t":100,"v":0.16},
{"m":"TUFLOW FV1","t":0,"v":0},{"m":"TUFLOW FV1","t":3,"v":0.05},{"m":"TUFLOW FV1","t":5,"v":0.3},{"m":"TUFLOW FV1","t":7,"v":0.5},{"m":"TUFLOW FV1","t":8,"v":0.55},{"m":"TUFLOW FV1","t":10,"v":0.5},{"m":"TUFLOW FV1","t":13,"v":0.4},{"m":"TUFLOW FV1","t":17,"v":0.32},{"m":"TUFLOW FV1","t":22,"v":0.25},{"m":"TUFLOW FV1","t":28,"v":0.18},{"m":"TUFLOW FV1","t":35,"v":0.11},{"m":"TUFLOW FV1","t":36,"v":0.3},{"m":"TUFLOW FV1","t":38,"v":0.6},{"m":"TUFLOW FV1","t":41,"v":0.73},{"m":"TUFLOW FV1","t":44,"v":0.755},{"m":"TUFLOW FV1","t":48,"v":0.73},{"m":"TUFLOW FV1","t":53,"v":0.62},{"m":"TUFLOW FV1","t":59,"v":0.45},{"m":"TUFLOW FV1","t":65,"v":0.3},{"m":"TUFLOW FV1","t":72,"v":0.2},{"m":"TUFLOW FV1","t":80,"v":0.14},{"m":"TUFLOW FV1","t":90,"v":0.1},{"m":"TUFLOW FV1","t":100,"v":0.08},
{"m":"TUFLOW FV2","t":0,"v":0},{"m":"TUFLOW FV2","t":3,"v":0.1},{"m":"TUFLOW FV2","t":3.5,"v":0.63},{"m":"TUFLOW FV2","t":4,"v":0.3},{"m":"TUFLOW FV2","t":5,"v":0.4},{"m":"TUFLOW FV2","t":7,"v":0.52},{"m":"TUFLOW FV2","t":8,"v":0.55},{"m":"TUFLOW FV2","t":10,"v":0.5},{"m":"TUFLOW FV2","t":13,"v":0.42},{"m":"TUFLOW FV2","t":17,"v":0.34},{"m":"TUFLOW FV2","t":22,"v":0.26},{"m":"TUFLOW FV2","t":28,"v":0.2},{"m":"TUFLOW FV2","t":35,"v":0.13},{"m":"TUFLOW FV2","t":36,"v":0.35},{"m":"TUFLOW FV2","t":38,"v":0.7},{"m":"TUFLOW FV2","t":41,"v":0.8},{"m":"TUFLOW FV2","t":44,"v":0.79},{"m":"TUFLOW FV2","t":48,"v":0.75},{"m":"TUFLOW FV2","t":53,"v":0.64},{"m":"TUFLOW FV2","t":59,"v":0.48},{"m":"TUFLOW FV2","t":65,"v":0.34},{"m":"TUFLOW FV2","t":72,"v":0.24},{"m":"TUFLOW FV2","t":80,"v":0.17},{"m":"TUFLOW FV2","t":90,"v":0.12},{"m":"TUFLOW FV2","t":100,"v":0.1},
{"m":"TUFLOW GPU","t":0,"v":0},{"m":"TUFLOW GPU","t":3,"v":0.05},{"m":"TUFLOW GPU","t":5,"v":0.4},{"m":"TUFLOW GPU","t":7,"v":0.5},{"m":"TUFLOW GPU","t":8,"v":0.48},{"m":"TUFLOW GPU","t":10,"v":0.4},{"m":"TUFLOW GPU","t":13,"v":0.28},{"m":"TUFLOW GPU","t":17,"v":0.22},{"m":"TUFLOW GPU","t":22,"v":0.2},{"m":"TUFLOW GPU","t":28,"v":0.17},{"m":"TUFLOW GPU","t":35,"v":0.12},{"m":"TUFLOW GPU","t":36,"v":0.2},{"m":"TUFLOW GPU","t":38,"v":0.45},{"m":"TUFLOW GPU","t":41,"v":0.63},{"m":"TUFLOW GPU","t":44,"v":0.675},{"m":"TUFLOW GPU","t":48,"v":0.62},{"m":"TUFLOW GPU","t":53,"v":0.4},{"m":"TUFLOW GPU","t":59,"v":0.2},{"m":"TUFLOW GPU","t":65,"v":0.15},{"m":"TUFLOW GPU","t":72,"v":0.14},{"m":"TUFLOW GPU","t":80,"v":0.12},{"m":"TUFLOW GPU","t":90,"v":0.1},{"m":"TUFLOW GPU","t":100,"v":0.09},
{"m":"MODCEL - Raster","t":0,"v":0},{"m":"MODCEL - Raster","t":1.7,"v":0},{"m":"MODCEL - Raster","t":2,"v":0.11},{"m":"MODCEL - Raster","t":2.5,"v":0.116},{"m":"MODCEL - Raster","t":4,"v":0.31},{"m":"MODCEL - Raster","t":6,"v":0.56},{"m":"MODCEL - Raster","t":7,"v":0.69},{"m":"MODCEL - Raster","t":7.8,"v":0.757},{"m":"MODCEL - Raster","t":10,"v":0.63},{"m":"MODCEL - Raster","t":12.5,"v":0.52},{"m":"MODCEL - Raster","t":15,"v":0.455},{"m":"MODCEL - Raster","t":17.5,"v":0.407},{"m":"MODCEL - Raster","t":20,"v":0.378},{"m":"MODCEL - Raster","t":25,"v":0.32},{"m":"MODCEL - Raster","t":29,"v":0.286},{"m":"MODCEL - Raster","t":32.5,"v":0.266},{"m":"MODCEL - Raster","t":34.6,"v":0.247},{"m":"MODCEL - Raster","t":35.2,"v":0.3},{"m":"MODCEL - Raster","t":35.8,"v":0.53},{"m":"MODCEL - Raster","t":37,"v":0.82},{"m":"MODCEL - Raster","t":38.3,"v":0.92},{"m":"MODCEL - Raster","t":40.8,"v":0.977},{"m":"MODCEL - Raster","t":43,"v":0.999},{"m":"MODCEL - Raster","t":45,"v":0.99},{"m":"MODCEL - Raster","t":47.5,"v":0.96},{"m":"MODCEL - Raster","t":50,"v":0.9},{"m":"MODCEL - Raster","t":52.5,"v":0.82},{"m":"MODCEL - Raster","t":55,"v":0.726},{"m":"MODCEL - Raster","t":57.5,"v":0.63},{"m":"MODCEL - Raster","t":60,"v":0.542},{"m":"MODCEL - Raster","t":62.5,"v":0.474},{"m":"MODCEL - Raster","t":65,"v":0.416},{"m":"MODCEL - Raster","t":67.5,"v":0.348},{"m":"MODCEL - Raster","t":70,"v":0.3},{"m":"MODCEL - Raster","t":72.5,"v":0.27},{"m":"MODCEL - Raster","t":75,"v":0.242},{"m":"MODCEL - Raster","t":77.5,"v":0.213},{"m":"MODCEL - Raster","t":80,"v":0.198},{"m":"MODCEL - Raster","t":85,"v":0.17},{"m":"MODCEL - Raster","t":90,"v":0.145},{"m":"MODCEL - Raster","t":95,"v":0.13},{"m":"MODCEL - Raster","t":100,"v":0.126}
],
"p3":[
{"m":"MIKE FLOOD","t":0,"v":27.03},{"m":"MIKE FLOOD","t":10,"v":27.035},{"m":"MIKE FLOOD","t":35,"v":27.03},{"m":"MIKE FLOOD","t":60,"v":27.033},{"m":"MIKE FLOOD","t":65,"v":27.03},{"m":"MIKE FLOOD","t":200,"v":27.03},
{"m":"SOBEK","t":0,"v":26.94},{"m":"SOBEK","t":3,"v":26.97},{"m":"SOBEK","t":6,"v":26.99},{"m":"SOBEK","t":9,"v":27.0},{"m":"SOBEK","t":14,"v":26.99},{"m":"SOBEK","t":20,"v":26.98},{"m":"SOBEK","t":28,"v":26.97},{"m":"SOBEK","t":35,"v":26.965},{"m":"SOBEK","t":36,"v":26.99},{"m":"SOBEK","t":38,"v":27.02},{"m":"SOBEK","t":42,"v":27.045},{"m":"SOBEK","t":46,"v":27.05},{"m":"SOBEK","t":50,"v":27.04},{"m":"SOBEK","t":55,"v":27.02},{"m":"SOBEK","t":60,"v":27.0},{"m":"SOBEK","t":70,"v":26.98},{"m":"SOBEK","t":80,"v":26.97},{"m":"SOBEK","t":100,"v":26.965},{"m":"SOBEK","t":140,"v":26.96},{"m":"SOBEK","t":200,"v":26.96},
{"m":"UIM","t":0,"v":26.93},{"m":"UIM","t":5,"v":26.95},{"m":"UIM","t":10,"v":26.96},{"m":"UIM","t":20,"v":26.955},{"m":"UIM","t":35,"v":26.95},{"m":"UIM","t":36,"v":26.97},{"m":"UIM","t":42,"v":27.0},{"m":"UIM","t":46,"v":27.005},{"m":"UIM","t":55,"v":26.99},{"m":"UIM","t":70,"v":26.96},{"m":"UIM","t":90,"v":26.95},{"m":"UIM","t":200,"v":26.95},
{"m":"Direct RFSM","t":0,"v":26.99},{"m":"Direct RFSM","t":200,"v":26.99},
{"m":"xpstorm","t":0,"v":26.95},{"m":"xpstorm","t":9,"v":26.98},{"m":"xpstorm","t":35,"v":26.975},{"m":"xpstorm","t":38,"v":26.985},{"m":"xpstorm","t":46,"v":26.99},{"m":"xpstorm","t":60,"v":26.98},{"m":"xpstorm","t":80,"v":26.955},{"m":"xpstorm","t":200,"v":26.955},
{"m":"Flowroute-i","t":0,"v":26.94},{"m":"Flowroute-i","t":9,"v":26.99},{"m":"Flowroute-i","t":20,"v":26.975},{"m":"Flowroute-i","t":35,"v":26.965},{"m":"Flowroute-i","t":38,"v":27.02},{"m":"Flowroute-i","t":46,"v":27.04},{"m":"Flowroute-i","t":55,"v":27.01},{"m":"Flowroute-i","t":70,"v":26.975},{"m":"Flowroute-i","t":90,"v":26.96},{"m":"Flowroute-i","t":200,"v":26.955},
{"m":"Infoworks ICM","t":0,"v":26.96},{"m":"Infoworks ICM","t":6,"v":27.0},{"m":"Infoworks ICM","t":10,"v":27.035},{"m":"Infoworks ICM","t":20,"v":27.03},{"m":"Infoworks ICM","t":35,"v":27.025},{"m":"Infoworks ICM","t":38,"v":27.055},{"m":"Infoworks ICM","t":44,"v":27.08},{"m":"Infoworks ICM","t":50,"v":27.07},{"m":"Infoworks ICM","t":55,"v":27.05},{"m":"Infoworks ICM","t":60,"v":27.04},{"m":"Infoworks ICM","t":70,"v":27.035},{"m":"Infoworks ICM","t":200,"v":27.035},
{"m":"ISIS 2D","t":0,"v":26.95},{"m":"ISIS 2D","t":5,"v":26.99},{"m":"ISIS 2D","t":10,"v":27.022},{"m":"ISIS 2D","t":20,"v":27.015},{"m":"ISIS 2D","t":28,"v":27.008},{"m":"ISIS 2D","t":35,"v":27.005},{"m":"ISIS 2D","t":36,"v":27.02},{"m":"ISIS 2D","t":40,"v":27.05},{"m":"ISIS 2D","t":44,"v":27.07},{"m":"ISIS 2D","t":48,"v":27.068},{"m":"ISIS 2D","t":52,"v":27.05},{"m":"ISIS 2D","t":58,"v":27.03},{"m":"ISIS 2D","t":65,"v":27.015},{"m":"ISIS 2D","t":72,"v":27.01},{"m":"ISIS 2D","t":90,"v":27.005},{"m":"ISIS 2D","t":200,"v":27.005},
{"m":"JFLOW+","t":0,"v":26.95},{"m":"JFLOW+","t":6,"v":26.98},{"m":"JFLOW+","t":10,"v":27.005},{"m":"JFLOW+","t":20,"v":26.995},{"m":"JFLOW+","t":35,"v":26.985},{"m":"JFLOW+","t":36,"v":27.0},{"m":"JFLOW+","t":40,"v":27.03},{"m":"JFLOW+","t":44,"v":27.055},{"m":"JFLOW+","t":50,"v":27.045},{"m":"JFLOW+","t":58,"v":27.02},{"m":"JFLOW+","t":70,"v":26.99},{"m":"JFLOW+","t":80,"v":26.965},{"m":"JFLOW+","t":100,"v":26.96},{"m":"JFLOW+","t":200,"v":26.96},
{"m":"RFSM EDA","t":0,"v":26.93},{"m":"RFSM EDA","t":5,"v":26.95},{"m":"RFSM EDA","t":10,"v":26.965},{"m":"RFSM EDA","t":20,"v":26.96},{"m":"RFSM EDA","t":35,"v":26.955},{"m":"RFSM EDA","t":38,"v":26.975},{"m":"RFSM EDA","t":45,"v":26.985},{"m":"RFSM EDA","t":55,"v":26.975},{"m":"RFSM EDA","t":70,"v":26.955},{"m":"RFSM EDA","t":100,"v":26.945},{"m":"RFSM EDA","t":200,"v":26.94},
{"m":"TUFLOW","t":0,"v":26.95},{"m":"TUFLOW","t":5,"v":26.99},{"m":"TUFLOW","t":10,"v":27.015},{"m":"TUFLOW","t":20,"v":27.008},{"m":"TUFLOW","t":35,"v":27.0},{"m":"TUFLOW","t":36,"v":27.015},{"m":"TUFLOW","t":40,"v":27.045},{"m":"TUFLOW","t":44,"v":27.06},{"m":"TUFLOW","t":50,"v":27.055},{"m":"TUFLOW","t":55,"v":27.04},{"m":"TUFLOW","t":62,"v":27.02},{"m":"TUFLOW","t":75,"v":26.97},{"m":"TUFLOW","t":80,"v":26.962},{"m":"TUFLOW","t":200,"v":26.962},
{"m":"LISFLOOD FP","t":0,"v":26.93},{"m":"LISFLOOD FP","t":6,"v":26.96},{"m":"LISFLOOD FP","t":10,"v":26.975},{"m":"LISFLOOD FP","t":20,"v":26.97},{"m":"LISFLOOD FP","t":35,"v":26.96},{"m":"LISFLOOD FP","t":36,"v":26.97},{"m":"LISFLOOD FP","t":44,"v":26.995},{"m":"LISFLOOD FP","t":55,"v":26.985},{"m":"LISFLOOD FP","t":70,"v":26.96},{"m":"LISFLOOD FP","t":100,"v":26.95},{"m":"LISFLOOD FP","t":200,"v":26.95},
{"m":"ISIS Fast","t":0,"v":26.97},{"m":"ISIS Fast","t":200,"v":26.97},
{"m":"ISIS Fast Dyn","t":0,"v":26.95},{"m":"ISIS Fast Dyn","t":3,"v":26.94},{"m":"ISIS Fast Dyn","t":6,"v":26.93},{"m":"ISIS Fast Dyn","t":10,"v":26.925},{"m":"ISIS Fast Dyn","t":16,"v":26.915},{"m":"ISIS Fast Dyn","t":22,"v":26.905},{"m":"ISIS Fast Dyn","t":28,"v":26.895},{"m":"ISIS Fast Dyn","t":35,"v":26.895},{"m":"ISIS Fast Dyn","t":36,"v":26.91},{"m":"ISIS Fast Dyn","t":38,"v":26.955},{"m":"ISIS Fast Dyn","t":42,"v":26.975},{"m":"ISIS Fast Dyn","t":46,"v":26.98},{"m":"ISIS Fast Dyn","t":50,"v":26.97},{"m":"ISIS Fast Dyn","t":55,"v":26.95},{"m":"ISIS Fast Dyn","t":62,"v":26.925},{"m":"ISIS Fast Dyn","t":70,"v":26.905},{"m":"ISIS Fast Dyn","t":75,"v":26.895},{"m":"ISIS Fast Dyn","t":200,"v":26.895},
{"m":"Ceasg","t":0,"v":26.92},{"m":"Ceasg","t":10,"v":26.925},{"m":"Ceasg","t":20,"v":26.92},{"m":"Ceasg","t":35,"v":26.915},{"m":"Ceasg","t":38,"v":26.93},{"m":"Ceasg","t":45,"v":26.945},{"m":"Ceasg","t":55,"v":26.935},{"m":"Ceasg","t":70,"v":26.91},{"m":"Ceasg","t":90,"v":26.89},{"m":"Ceasg","t":120,"v":26.877},{"m":"Ceasg","t":200,"v":26.875},
{"m":"ISIS 2D GPU","t":0,"v":26.94},{"m":"ISIS 2D GPU","t":5,"v":26.96},{"m":"ISIS 2D GPU","t":10,"v":26.977},{"m":"ISIS 2D GPU","t":20,"v":26.97},{"m":"ISIS 2D GPU","t":35,"v":26.96},{"m":"ISIS 2D GPU","t":36,"v":26.97},{"m":"ISIS 2D GPU","t":42,"v":26.99},{"m":"ISIS 2D GPU","t":46,"v":26.995},{"m":"ISIS 2D GPU","t":55,"v":26.985},{"m":"ISIS 2D GPU","t":70,"v":26.955},{"m":"ISIS 2D GPU","t":90,"v":26.945},{"m":"ISIS 2D GPU","t":120,"v":26.937},{"m":"ISIS 2D GPU","t":200,"v":26.935},
{"m":"TUFLOW FV1","t":0,"v":26.94},{"m":"TUFLOW FV1","t":9,"v":26.965},{"m":"TUFLOW FV1","t":20,"v":26.955},{"m":"TUFLOW FV1","t":35,"v":26.95},{"m":"TUFLOW FV1","t":38,"v":26.96},{"m":"TUFLOW FV1","t":45,"v":26.975},{"m":"TUFLOW FV1","t":55,"v":26.965},{"m":"TUFLOW FV1","t":70,"v":26.95},{"m":"TUFLOW FV1","t":100,"v":26.945},{"m":"TUFLOW FV1","t":200,"v":26.945},
{"m":"TUFLOW FV2","t":0,"v":26.95},{"m":"TUFLOW FV2","t":9,"v":26.975},{"m":"TUFLOW FV2","t":35,"v":26.96},{"m":"TUFLOW FV2","t":38,"v":26.975},{"m":"TUFLOW FV2","t":46,"v":26.99},{"m":"TUFLOW FV2","t":56,"v":26.975},{"m":"TUFLOW FV2","t":70,"v":26.96},{"m":"TUFLOW FV2","t":100,"v":26.955},{"m":"TUFLOW FV2","t":200,"v":26.955},
{"m":"TUFLOW GPU","t":0,"v":26.94},{"m":"TUFLOW GPU","t":6,"v":26.955},{"m":"TUFLOW GPU","t":12,"v":26.945},{"m":"TUFLOW GPU","t":20,"v":26.95},{"m":"TUFLOW GPU","t":35,"v":26.945},{"m":"TUFLOW GPU","t":38,"v":26.955},{"m":"TUFLOW GPU","t":45,"v":26.965},{"m":"TUFLOW GPU","t":60,"v":26.95},{"m":"TUFLOW GPU","t":80,"v":26.94},{"m":"TUFLOW GPU","t":120,"v":26.935},{"m":"TUFLOW GPU","t":200,"v":26.935},
{"m":"MODCEL - Raster","t":0,"v":26.951},{"m":"MODCEL - Raster","t":3.2,"v":26.998},{"m":"MODCEL - Raster","t":6.4,"v":26.974},{"m":"MODCEL - Raster","t":7.9,"v":27.008},{"m":"MODCEL - Raster","t":9,"v":27.007},{"m":"MODCEL - Raster","t":13.4,"v":26.986},{"m":"MODCEL - Raster","t":17.8,"v":26.974},{"m":"MODCEL - Raster","t":23.6,"v":26.965},{"m":"MODCEL - Raster","t":28.8,"v":26.96},{"m":"MODCEL - Raster","t":32.4,"v":26.956},{"m":"MODCEL - Raster","t":35.6,"v":26.953},{"m":"MODCEL - Raster","t":36.5,"v":27.026},{"m":"MODCEL - Raster","t":39.7,"v":27.041},{"m":"MODCEL - Raster","t":44.8,"v":27.05},{"m":"MODCEL - Raster","t":47,"v":27.047},{"m":"MODCEL - Raster","t":51.4,"v":27.028},{"m":"MODCEL - Raster","t":56.5,"v":27.0},{"m":"MODCEL - Raster","t":61.6,"v":26.977},{"m":"MODCEL - Raster","t":67.4,"v":26.965},{"m":"MODCEL - Raster","t":73.3,"v":26.957},{"m":"MODCEL - Raster","t":80.6,"v":26.953},{"m":"MODCEL - Raster","t":100,"v":26.953},{"m":"MODCEL - Raster","t":200,"v":26.953}
],
"p4":[
{"m":"MIKE FLOOD","t":0,"v":0},{"m":"MIKE FLOOD","t":2,"v":0.3},{"m":"MIKE FLOOD","t":4,"v":0.8},{"m":"MIKE FLOOD","t":6,"v":0.7},{"m":"MIKE FLOOD","t":7.5,"v":0.5},{"m":"MIKE FLOOD","t":8.5,"v":0.85},{"m":"MIKE FLOOD","t":10,"v":0.93},{"m":"MIKE FLOOD","t":13,"v":0.93},{"m":"MIKE FLOOD","t":16,"v":0.8},{"m":"MIKE FLOOD","t":20,"v":0.62},{"m":"MIKE FLOOD","t":25,"v":0.47},{"m":"MIKE FLOOD","t":30,"v":0.37},{"m":"MIKE FLOOD","t":36,"v":0.3},{"m":"MIKE FLOOD","t":36.5,"v":0.6},{"m":"MIKE FLOOD","t":38,"v":1.15},{"m":"MIKE FLOOD","t":41,"v":1.25},{"m":"MIKE FLOOD","t":44,"v":1.3},{"m":"MIKE FLOOD","t":47,"v":1.29},{"m":"MIKE FLOOD","t":50,"v":1.2},{"m":"MIKE FLOOD","t":55,"v":1.0},{"m":"MIKE FLOOD","t":60,"v":0.72},{"m":"MIKE FLOOD","t":65,"v":0.55},{"m":"MIKE FLOOD","t":70,"v":0.45},{"m":"MIKE FLOOD","t":75,"v":0.37},{"m":"MIKE FLOOD","t":80,"v":0.34},
{"m":"SOBEK","t":0,"v":0},{"m":"SOBEK","t":2,"v":0.5},{"m":"SOBEK","t":4,"v":0.88},{"m":"SOBEK","t":5,"v":0.85},{"m":"SOBEK","t":7,"v":0.6},{"m":"SOBEK","t":8,"v":0.8},{"m":"SOBEK","t":9,"v":1.05},{"m":"SOBEK","t":10,"v":0.95},{"m":"SOBEK","t":13,"v":0.9},{"m":"SOBEK","t":17,"v":0.78},{"m":"SOBEK","t":22,"v":0.65},{"m":"SOBEK","t":28,"v":0.55},{"m":"SOBEK","t":35,"v":0.45},{"m":"SOBEK","t":36.5,"v":0.5},{"m":"SOBEK","t":37,"v":1.5},{"m":"SOBEK","t":38,"v":1.2},{"m":"SOBEK","t":39,"v":2.0},{"m":"SOBEK","t":40,"v":1.6},{"m":"SOBEK","t":41,"v":1.95},{"m":"SOBEK","t":42,"v":1.5},{"m":"SOBEK","t":43,"v":1.7},{"m":"SOBEK","t":44,"v":1.4},{"m":"SOBEK","t":45,"v":1.8},{"m":"SOBEK","t":46,"v":1.35},{"m":"SOBEK","t":47,"v":1.6},{"m":"SOBEK","t":48,"v":1.3},{"m":"SOBEK","t":49,"v":1.5},{"m":"SOBEK","t":50,"v":1.2},{"m":"SOBEK","t":52,"v":1.1},{"m":"SOBEK","t":55,"v":0.95},{"m":"SOBEK","t":60,"v":0.7},{"m":"SOBEK","t":65,"v":0.55},{"m":"SOBEK","t":70,"v":0.45},{"m":"SOBEK","t":75,"v":0.38},{"m":"SOBEK","t":80,"v":0.35},
{"m":"UIM","t":0,"v":0},{"m":"UIM","t":3,"v":0.6},{"m":"UIM","t":4.5,"v":0.88},{"m":"UIM","t":7,"v":0.6},{"m":"UIM","t":9,"v":0.95},{"m":"UIM","t":13,"v":0.9},{"m":"UIM","t":20,"v":0.7},{"m":"UIM","t":28,"v":0.55},{"m":"UIM","t":36,"v":0.4},{"m":"UIM","t":37,"v":1.0},{"m":"UIM","t":39,"v":1.25},{"m":"UIM","t":42,"v":1.35},{"m":"UIM","t":45,"v":1.4},{"m":"UIM","t":48,"v":1.35},{"m":"UIM","t":52,"v":1.2},{"m":"UIM","t":56,"v":1.0},{"m":"UIM","t":60,"v":0.8},{"m":"UIM","t":65,"v":0.62},{"m":"UIM","t":70,"v":0.5},{"m":"UIM","t":80,"v":0.38},
{"m":"xpstorm","t":0,"v":0},{"m":"xpstorm","t":2,"v":0.5},{"m":"xpstorm","t":4.5,"v":0.9},{"m":"xpstorm","t":6,"v":0.8},{"m":"xpstorm","t":7.5,"v":0.55},{"m":"xpstorm","t":8.5,"v":0.9},{"m":"xpstorm","t":9.5,"v":0.97},{"m":"xpstorm","t":13,"v":0.93},{"m":"xpstorm","t":17,"v":0.85},{"m":"xpstorm","t":22,"v":0.72},{"m":"xpstorm","t":23,"v":0.82},{"m":"xpstorm","t":27,"v":0.75},{"m":"xpstorm","t":31,"v":0.63},{"m":"xpstorm","t":36,"v":0.45},{"m":"xpstorm","t":36.5,"v":0.6},{"m":"xpstorm","t":37,"v":1.2},{"m":"xpstorm","t":38,"v":1.25},{"m":"xpstorm","t":41,"v":1.3},{"m":"xpstorm","t":44,"v":1.35},{"m":"xpstorm","t":45,"v":1.36},{"m":"xpstorm","t":45.5,"v":1.05},{"m":"xpstorm","t":48,"v":1.05},{"m":"xpstorm","t":48.5,"v":1.33},{"m":"xpstorm","t":52,"v":1.2},{"m":"xpstorm","t":56,"v":1.0},{"m":"xpstorm","t":60,"v":0.82},{"m":"xpstorm","t":65,"v":0.65},{"m":"xpstorm","t":70,"v":0.55},{"m":"xpstorm","t":75,"v":0.48},{"m":"xpstorm","t":80,"v":0.42},
{"m":"Flowroute-i","t":0,"v":0},{"m":"Flowroute-i","t":4,"v":0.7},{"m":"Flowroute-i","t":8,"v":0.8},{"m":"Flowroute-i","t":9,"v":1.08},{"m":"Flowroute-i","t":10,"v":0.85},{"m":"Flowroute-i","t":15,"v":0.75},{"m":"Flowroute-i","t":22,"v":0.6},{"m":"Flowroute-i","t":30,"v":0.48},{"m":"Flowroute-i","t":36,"v":0.4},{"m":"Flowroute-i","t":37,"v":1.5},{"m":"Flowroute-i","t":38,"v":1.2},{"m":"Flowroute-i","t":42,"v":1.9},{"m":"Flowroute-i","t":43,"v":1.4},{"m":"Flowroute-i","t":46,"v":1.85},{"m":"Flowroute-i","t":47,"v":1.4},{"m":"Flowroute-i","t":49,"v":1.75},{"m":"Flowroute-i","t":50,"v":1.3},{"m":"Flowroute-i","t":53,"v":1.1},{"m":"Flowroute-i","t":57,"v":0.9},{"m":"Flowroute-i","t":62,"v":0.7},{"m":"Flowroute-i","t":70,"v":0.5},{"m":"Flowroute-i","t":80,"v":0.4},
{"m":"Infoworks ICM","t":0,"v":0},{"m":"Infoworks ICM","t":3,"v":0.5},{"m":"Infoworks ICM","t":5,"v":0.6},{"m":"Infoworks ICM","t":8,"v":0.62},{"m":"Infoworks ICM","t":10,"v":0.6},{"m":"Infoworks ICM","t":15,"v":0.5},{"m":"Infoworks ICM","t":20,"v":0.42},{"m":"Infoworks ICM","t":28,"v":0.33},{"m":"Infoworks ICM","t":36,"v":0.25},{"m":"Infoworks ICM","t":37,"v":0.6},{"m":"Infoworks ICM","t":40,"v":0.95},{"m":"Infoworks ICM","t":45,"v":1.08},{"m":"Infoworks ICM","t":50,"v":1.05},{"m":"Infoworks ICM","t":55,"v":0.9},{"m":"Infoworks ICM","t":60,"v":0.7},{"m":"Infoworks ICM","t":65,"v":0.55},{"m":"Infoworks ICM","t":70,"v":0.42},{"m":"Infoworks ICM","t":80,"v":0.3},
{"m":"ISIS 2D","t":0,"v":0},{"m":"ISIS 2D","t":3,"v":0.3},{"m":"ISIS 2D","t":4,"v":0.5},{"m":"ISIS 2D","t":6,"v":0.4},{"m":"ISIS 2D","t":8,"v":0.45},{"m":"ISIS 2D","t":9,"v":0.5},{"m":"ISIS 2D","t":10,"v":0.45},{"m":"ISIS 2D","t":14,"v":0.35},{"m":"ISIS 2D","t":20,"v":0.25},{"m":"ISIS 2D","t":28,"v":0.15},{"m":"ISIS 2D","t":36,"v":0.1},{"m":"ISIS 2D","t":37,"v":0.5},{"m":"ISIS 2D","t":38,"v":1.0},{"m":"ISIS 2D","t":41,"v":1.15},{"m":"ISIS 2D","t":43,"v":1.2},{"m":"ISIS 2D","t":44,"v":1.27},{"m":"ISIS 2D","t":45,"v":1.2},{"m":"ISIS 2D","t":46,"v":1.28},{"m":"ISIS 2D","t":48,"v":1.22},{"m":"ISIS 2D","t":50,"v":1.15},{"m":"ISIS 2D","t":55,"v":0.95},{"m":"ISIS 2D","t":60,"v":0.7},{"m":"ISIS 2D","t":65,"v":0.5},{"m":"ISIS 2D","t":70,"v":0.4},{"m":"ISIS 2D","t":75,"v":0.3},{"m":"ISIS 2D","t":80,"v":0.25},
{"m":"JFLOW+","t":0,"v":0},{"m":"JFLOW+","t":2,"v":0.05},{"m":"JFLOW+","t":4,"v":0.38},{"m":"JFLOW+","t":6,"v":0.2},{"m":"JFLOW+","t":8,"v":0.1},{"m":"JFLOW+","t":9,"v":0.5},{"m":"JFLOW+","t":10,"v":0.05},{"m":"JFLOW+","t":11,"v":0.45},{"m":"JFLOW+","t":12,"v":0.1},{"m":"JFLOW+","t":13,"v":0.3},{"m":"JFLOW+","t":14,"v":0},{"m":"JFLOW+","t":15,"v":0.32},{"m":"JFLOW+","t":16,"v":0},{"m":"JFLOW+","t":17,"v":0.1},{"m":"JFLOW+","t":20,"v":0.05},{"m":"JFLOW+","t":30,"v":0.02},{"m":"JFLOW+","t":36,"v":0},{"m":"JFLOW+","t":38,"v":0.5},{"m":"JFLOW+","t":41,"v":0.85},{"m":"JFLOW+","t":45,"v":0.95},{"m":"JFLOW+","t":50,"v":0.9},{"m":"JFLOW+","t":55,"v":0.75},{"m":"JFLOW+","t":60,"v":0.55},{"m":"JFLOW+","t":65,"v":0.45},{"m":"JFLOW+","t":70,"v":0.32},{"m":"JFLOW+","t":75,"v":0.25},{"m":"JFLOW+","t":80,"v":0.2},
{"m":"RFSM EDA","t":0,"v":0},{"m":"RFSM EDA","t":3,"v":0.3},{"m":"RFSM EDA","t":5,"v":0.5},{"m":"RFSM EDA","t":8,"v":0.55},{"m":"RFSM EDA","t":10,"v":0.6},{"m":"RFSM EDA","t":15,"v":0.5},{"m":"RFSM EDA","t":22,"v":0.38},{"m":"RFSM EDA","t":30,"v":0.27},{"m":"RFSM EDA","t":36,"v":0.2},{"m":"RFSM EDA","t":37,"v":0.5},{"m":"RFSM EDA","t":40,"v":0.8},{"m":"RFSM EDA","t":45,"v":0.95},{"m":"RFSM EDA","t":50,"v":0.9},{"m":"RFSM EDA","t":55,"v":0.78},{"m":"RFSM EDA","t":60,"v":0.6},{"m":"RFSM EDA","t":65,"v":0.45},{"m":"RFSM EDA","t":70,"v":0.33},{"m":"RFSM EDA","t":80,"v":0.22},
{"m":"TUFLOW","t":0,"v":0},{"m":"TUFLOW","t":2,"v":0.2},{"m":"TUFLOW","t":4,"v":0.38},{"m":"TUFLOW","t":6,"v":0.3},{"m":"TUFLOW","t":8,"v":0.45},{"m":"TUFLOW","t":10,"v":0.52},{"m":"TUFLOW","t":13,"v":0.45},{"m":"TUFLOW","t":17,"v":0.36},{"m":"TUFLOW","t":22,"v":0.27},{"m":"TUFLOW","t":28,"v":0.2},{"m":"TUFLOW","t":36,"v":0.12},{"m":"TUFLOW","t":37,"v":0},{"m":"TUFLOW","t":38,"v":0.8},{"m":"TUFLOW","t":41,"v":0.9},{"m":"TUFLOW","t":45,"v":1.0},{"m":"TUFLOW","t":50,"v":0.95},{"m":"TUFLOW","t":55,"v":0.8},{"m":"TUFLOW","t":60,"v":0.55},{"m":"TUFLOW","t":63.5,"v":0.45},{"m":"TUFLOW","t":64,"v":0},
{"m":"LISFLOOD FP","t":0,"v":0},{"m":"LISFLOOD FP","t":3,"v":0.4},{"m":"LISFLOOD FP","t":5,"v":0.65},{"m":"LISFLOOD FP","t":8,"v":0.7},{"m":"LISFLOOD FP","t":10,"v":0.68},{"m":"LISFLOOD FP","t":15,"v":0.58},{"m":"LISFLOOD FP","t":22,"v":0.45},{"m":"LISFLOOD FP","t":30,"v":0.35},{"m":"LISFLOOD FP","t":36,"v":0.3},{"m":"LISFLOOD FP","t":37,"v":0.9},{"m":"LISFLOOD FP","t":40,"v":1.05},{"m":"LISFLOOD FP","t":45,"v":1.12},{"m":"LISFLOOD FP","t":50,"v":1.08},{"m":"LISFLOOD FP","t":55,"v":0.92},{"m":"LISFLOOD FP","t":60,"v":0.7},{"m":"LISFLOOD FP","t":65,"v":0.52},{"m":"LISFLOOD FP","t":70,"v":0.4},{"m":"LISFLOOD FP","t":80,"v":0.28},
{"m":"Ceasg","t":0,"v":0},{"m":"Ceasg","t":5,"v":0.1},{"m":"Ceasg","t":10,"v":0.15},{"m":"Ceasg","t":20,"v":0.12},{"m":"Ceasg","t":30,"v":0.08},{"m":"Ceasg","t":36,"v":0.05},{"m":"Ceasg","t":38,"v":0.35},{"m":"Ceasg","t":44,"v":0.49},{"m":"Ceasg","t":50,"v":0.45},{"m":"Ceasg","t":55,"v":0.38},{"m":"Ceasg","t":60,"v":0.3},{"m":"Ceasg","t":70,"v":0.15},{"m":"Ceasg","t":80,"v":0.05},
{"m":"ISIS 2D GPU","t":0,"v":0},{"m":"ISIS 2D GPU","t":3,"v":0.2},{"m":"ISIS 2D GPU","t":5,"v":0.25},{"m":"ISIS 2D GPU","t":8,"v":0.3},{"m":"ISIS 2D GPU","t":10,"v":0.28},{"m":"ISIS 2D GPU","t":15,"v":0.2},{"m":"ISIS 2D GPU","t":20,"v":0.16},{"m":"ISIS 2D GPU","t":28,"v":0.1},{"m":"ISIS 2D GPU","t":36,"v":0.06},{"m":"ISIS 2D GPU","t":37,"v":0.3},{"m":"ISIS 2D GPU","t":38,"v":0.6},{"m":"ISIS 2D GPU","t":41,"v":0.66},{"m":"ISIS 2D GPU","t":45,"v":0.71},{"m":"ISIS 2D GPU","t":50,"v":0.68},{"m":"ISIS 2D GPU","t":55,"v":0.6},{"m":"ISIS 2D GPU","t":60,"v":0.45},{"m":"ISIS 2D GPU","t":65,"v":0.3},{"m":"ISIS 2D GPU","t":70,"v":0.2},{"m":"ISIS 2D GPU","t":75,"v":0.12},{"m":"ISIS 2D GPU","t":80,"v":0.05},
{"m":"TUFLOW FV1","t":0,"v":0},{"m":"TUFLOW FV1","t":3,"v":0.35},{"m":"TUFLOW FV1","t":4.5,"v":0.38},{"m":"TUFLOW FV1","t":6,"v":0.3},{"m":"TUFLOW FV1","t":8,"v":0.4},{"m":"TUFLOW FV1","t":10,"v":0.5},{"m":"TUFLOW FV1","t":14,"v":0.42},{"m":"TUFLOW FV1","t":20,"v":0.32},{"m":"TUFLOW FV1","t":26,"v":0.24},{"m":"TUFLOW FV1","t":32,"v":0.16},{"m":"TUFLOW FV1","t":36,"v":0.12},{"m":"TUFLOW FV1","t":37,"v":0.3},{"m":"TUFLOW FV1","t":38,"v":0.6},{"m":"TUFLOW FV1","t":41,"v":0.72},{"m":"TUFLOW FV1","t":45,"v":0.78},{"m":"TUFLOW FV1","t":50,"v":0.74},{"m":"TUFLOW FV1","t":55,"v":0.62},{"m":"TUFLOW FV1","t":60,"v":0.45},{"m":"TUFLOW FV1","t":65,"v":0.3},{"m":"TUFLOW FV1","t":70,"v":0.22},{"m":"TUFLOW FV1","t":75,"v":0.15},{"m":"TUFLOW FV1","t":80,"v":0.12},
{"m":"TUFLOW FV2","t":0,"v":0},{"m":"TUFLOW FV2","t":3,"v":0.3},{"m":"TUFLOW FV2","t":4.5,"v":0.36},{"m":"TUFLOW FV2","t":6,"v":0.28},{"m":"TUFLOW FV2","t":8,"v":0.38},{"m":"TUFLOW FV2","t":10,"v":0.48},{"m":"TUFLOW FV2","t":14,"v":0.4},{"m":"TUFLOW FV2","t":20,"v":0.3},{"m":"TUFLOW FV2","t":26,"v":0.22},{"m":"TUFLOW FV2","t":32,"v":0.15},{"m":"TUFLOW FV2","t":36,"v":0.1},{"m":"TUFLOW FV2","t":37,"v":0.3},{"m":"TUFLOW FV2","t":38,"v":0.58},{"m":"TUFLOW FV2","t":41,"v":0.7},{"m":"TUFLOW FV2","t":45,"v":0.76},{"m":"TUFLOW FV2","t":50,"v":0.72},{"m":"TUFLOW FV2","t":55,"v":0.6},{"m":"TUFLOW FV2","t":60,"v":0.43},{"m":"TUFLOW FV2","t":65,"v":0.28},{"m":"TUFLOW FV2","t":70,"v":0.2},{"m":"TUFLOW FV2","t":75,"v":0.14},{"m":"TUFLOW FV2","t":80,"v":0.11},
{"m":"TUFLOW GPU","t":0,"v":0},{"m":"TUFLOW GPU","t":3,"v":0.55},{"m":"TUFLOW GPU","t":4,"v":0.6},{"m":"TUFLOW GPU","t":6,"v":0.5},{"m":"TUFLOW GPU","t":8,"v":0.75},{"m":"TUFLOW GPU","t":11,"v":0.65},{"m":"TUFLOW GPU","t":15,"v":0.57},{"m":"TUFLOW GPU","t":20,"v":0.58},{"m":"TUFLOW GPU","t":25,"v":0.61},{"m":"TUFLOW GPU","t":30,"v":0.56},{"m":"TUFLOW GPU","t":35,"v":0.5},{"m":"TUFLOW GPU","t":36,"v":0.48},{"m":"TUFLOW GPU","t":37,"v":0.7},{"m":"TUFLOW GPU","t":40,"v":0.85},{"m":"TUFLOW GPU","t":45,"v":0.95},{"m":"TUFLOW GPU","t":50,"v":0.9},{"m":"TUFLOW GPU","t":55,"v":0.78},{"m":"TUFLOW GPU","t":60,"v":0.65},{"m":"TUFLOW GPU","t":65,"v":0.55},{"m":"TUFLOW GPU","t":70,"v":0.47},{"m":"TUFLOW GPU","t":80,"v":0.42},
{"m":"MODCEL - Raster","t":0,"v":0},{"m":"MODCEL - Raster","t":0.6,"v":0.14},{"m":"MODCEL - Raster","t":1.2,"v":0.43},{"m":"MODCEL - Raster","t":2.1,"v":0.525},{"m":"MODCEL - Raster","t":3,"v":0.716},{"m":"MODCEL - Raster","t":3.4,"v":0.764},{"m":"MODCEL - Raster","t":4.2,"v":0.716},{"m":"MODCEL - Raster","t":5.1,"v":0.58},{"m":"MODCEL - Raster","t":6.3,"v":0.478},{"m":"MODCEL - Raster","t":7,"v":0.472},{"m":"MODCEL - Raster","t":7.5,"v":0.678},{"m":"MODCEL - Raster","t":8.1,"v":0.81},{"m":"MODCEL - Raster","t":9,"v":0.83},{"m":"MODCEL - Raster","t":9.9,"v":0.83},{"m":"MODCEL - Raster","t":11.7,"v":0.78},{"m":"MODCEL - Raster","t":13.2,"v":0.745},{"m":"MODCEL - Raster","t":14.1,"v":0.7},{"m":"MODCEL - Raster","t":14.4,"v":0.62},{"m":"MODCEL - Raster","t":16.5,"v":0.545},{"m":"MODCEL - Raster","t":19.5,"v":0.468},{"m":"MODCEL - Raster","t":23.7,"v":0.39},{"m":"MODCEL - Raster","t":28.5,"v":0.334},{"m":"MODCEL - Raster","t":32.1,"v":0.287},{"m":"MODCEL - Raster","t":33.9,"v":0.273},{"m":"MODCEL - Raster","t":36,"v":0.273},{"m":"MODCEL - Raster","t":36.3,"v":0.716},{"m":"MODCEL - Raster","t":37.2,"v":0.945},{"m":"MODCEL - Raster","t":39.3,"v":1.06},{"m":"MODCEL - Raster","t":41.7,"v":1.117},{"m":"MODCEL - Raster","t":43.5,"v":1.175},{"m":"MODCEL - Raster","t":45.3,"v":1.175},{"m":"MODCEL - Raster","t":47.7,"v":1.137},{"m":"MODCEL - Raster","t":49.6,"v":1.05},{"m":"MODCEL - Raster","t":50.5,"v":1.04},{"m":"MODCEL - Raster","t":52.6,"v":0.93},{"m":"MODCEL - Raster","t":55,"v":0.83},{"m":"MODCEL - Raster","t":57.4,"v":0.755},{"m":"MODCEL - Raster","t":59.3,"v":0.716},{"m":"MODCEL - Raster","t":61.3,"v":0.544},{"m":"MODCEL - Raster","t":63.3,"v":0.449},{"m":"MODCEL - Raster","t":65.9,"v":0.4},{"m":"MODCEL - Raster","t":68.5,"v":0.353},{"m":"MODCEL - Raster","t":71.1,"v":0.315},{"m":"MODCEL - Raster","t":73.7,"v":0.287},{"m":"MODCEL - Raster","t":76.3,"v":0.267},{"m":"MODCEL - Raster","t":80,"v":0.258}
]
},
"concat":[
{
"width":457,"height":358,
"title":{"text":"Test 8A - Point: 2","fontWeight":400},
"data":{"name":"p1"},
"encoding":{
"x":{"field":"t","type":"quantitative","scale":{"domain":[0,200],"nice":false},"axis":{"title":"Tempo (minutos)","values":[0,20,40,60,80,100,120,140,160,180,200],"titlePadding":6}},
"y":{"field":"v","type":"quantitative","scale":{"domain":[28.4,29.0],"nice":false,"zero":false},"axis":{"title":"Nível d'água (m)","values":[28.4,28.5,28.6,28.7,28.8,28.9],"format":".1f","labelPadding":7}}
},
"layer":[
{"transform":[{"filter":"datum.m != 'MODCEL - Raster'"}],
"mark":{"type":"line","strokeWidth":1.2,"interpolate":"monotone","clip":true},
"encoding":{
"color":{"field":"m","type":"nominal","scale":{"domain":["MIKE FLOOD","SOBEK","UIM","Direct RFSM","xpstorm","Flowroute-i","Infoworks ICM","ISIS 2D","JFLOW+","RFSM EDA","TUFLOW","LISFLOOD FP","ISIS Fast","ISIS Fast Dyn","Ceasg","ISIS 2D GPU","TUFLOW FV1","TUFLOW FV2","TUFLOW GPU"],"range":["#999999","#c8c8c8","#c8c8c8","#aaaaaa","#8c8c8c","#c8c8c8","#dcdcdc","#9a9a9a","#c8c8c8","#b0b0b0","#888888","#c8c8c8","#aaaaaa","#999999","#e4e4e4","#a8a8a8","#999999","#999999","#aaaaaa"]},
"legend":{"title":null,"orient":"none","legendX":305,"legendY":5,"zindex":0,"symbolType":"stroke","symbolSize":625,"symbolStrokeWidth":1.3,"clipHeight":15.7,"rowPadding":0,"padding":5,"symbolOffset":0,"labelOffset":7,"labelFont":"Liberation Sans","labelFontSize":13,"labelColor":"#a8a8a8","labelExpr":"datum.label + '    '","strokeColor":"#d0d0d0","fillColor":"#ffffff"}},
"strokeDash":{"field":"m","type":"nominal","scale":{"domain":["MIKE FLOOD","SOBEK","UIM","Direct RFSM","xpstorm","Flowroute-i","Infoworks ICM","ISIS 2D","JFLOW+","RFSM EDA","TUFLOW","LISFLOOD FP","ISIS Fast","ISIS Fast Dyn","Ceasg","ISIS 2D GPU","TUFLOW FV1","TUFLOW FV2","TUFLOW GPU"],"range":[[1,0],[6,3,2,3],[6,3,2,3],[4,3],[6,3,2,3],[4,3],[1,0],[1,0],[1,0],[6,3,2,3],[1,0],[4,3],[4,3],[6,3,2,3],[1,0],[1,0],[4,3],[6,3,2,3],[1,3]]},
"legend":{"title":null,"orient":"none","legendX":305,"legendY":5,"zindex":0,"symbolType":"stroke","symbolSize":625,"symbolStrokeWidth":1.3,"clipHeight":15.7,"rowPadding":0,"padding":5,"symbolOffset":0,"labelOffset":7,"labelFont":"Liberation Sans","labelFontSize":13,"labelColor":"#a8a8a8","labelExpr":"datum.label + '    '","strokeColor":"#d0d0d0","fillColor":"#ffffff"}}
}},
{"transform":[{"filter":"datum.m == 'MODCEL - Raster'"}],
"mark":{"type":"line","strokeWidth":2.6,"interpolate":"monotone","clip":true},
"encoding":{
"color":{"field":"m","type":"nominal","scale":{"domain":["MODCEL - Raster"],"range":["#000000"]},
"legend":{"title":null,"orient":"none","legendX":307,"legendY":324,"symbolType":"stroke","symbolSize":1156,"symbolStrokeWidth":3,"clipHeight":20,"padding":3,"symbolOffset":10,"labelOffset":4,"labelFont":"Lato","labelFontSize":11,"labelColor":"#333333","strokeColor":"#000000","fillColor":"#ffffff","encode":{"legend":{"update":{"strokeWidth":{"value":2}}}}}}
}}
],
"resolve":{"scale":{"color":"independent"}}
},
{
"width":443,"height":345,
"title":{"text":"Teste 8A - Ponto: 2","fontWeight":400},
"data":{"name":"p2"},
"encoding":{
"x":{"field":"t","type":"quantitative","scale":{"domain":[0,100],"nice":false},"axis":{"title":"Tempo (minutos)","values":[0,10,20,30,40,50,60,70,80,90,100],"labelFlush":true,"titlePadding":8}},
"y":{"field":"v","type":"quantitative","scale":{"domain":[0,1],"nice":false},"axis":{"title":"Velocidade (m/s)","values":[0,0.1,0.2,0.3,0.4,0.5,0.6,0.7,0.8,0.9,1],"format":".1~f","labelPadding":4}}
},
"layer":[
{"transform":[{"filter":"datum.m != 'MODCEL - Raster'"}],
"mark":{"type":"line","strokeWidth":1.2,"interpolate":"monotone","clip":true},
"encoding":{
"color":{"field":"m","type":"nominal","scale":{"domain":["MIKE FLOOD","SOBEK","UIM","xpstorm","Flowroute-i","Infoworks ICM","ISIS 2D","JFLOW+","RFSM EDA","TUFLOW","LISFLOOD FP","Ceasg","ISIS 2D GPU","TUFLOW FV1","TUFLOW FV2","TUFLOW GPU"],"range":["#999999","#c8c8c8","#c8c8c8","#8c8c8c","#c8c8c8","#dcdcdc","#9a9a9a","#c8c8c8","#b0b0b0","#888888","#c8c8c8","#e4e4e4","#a8a8a8","#999999","#999999","#aaaaaa"]},
"legend":{"title":null,"orient":"none","legendX":292,"legendY":7,"zindex":0,"symbolType":"stroke","symbolSize":625,"symbolStrokeWidth":1.3,"clipHeight":15.6,"rowPadding":0,"padding":5,"symbolOffset":0,"labelOffset":7,"labelFont":"Liberation Sans","labelFontSize":13,"labelColor":"#a8a8a8","labelExpr":"datum.label + '  '","strokeColor":"#d0d0d0","fillColor":"#ffffff"}},
"strokeDash":{"field":"m","type":"nominal","scale":{"domain":["MIKE FLOOD","SOBEK","UIM","xpstorm","Flowroute-i","Infoworks ICM","ISIS 2D","JFLOW+","RFSM EDA","TUFLOW","LISFLOOD FP","Ceasg","ISIS 2D GPU","TUFLOW FV1","TUFLOW FV2","TUFLOW GPU"],"range":[[1,0],[6,3,2,3],[6,3,2,3],[5,3],[4,3],[1,0],[1,0],[1,0],[5,3],[1,0],[4,3],[1,0],[1,0],[4,3],[6,3,2,3],[1,3]]},
"legend":{"title":null,"orient":"none","legendX":292,"legendY":7,"zindex":0,"symbolType":"stroke","symbolSize":625,"symbolStrokeWidth":1.3,"clipHeight":15.6,"rowPadding":0,"padding":5,"symbolOffset":0,"labelOffset":7,"labelFont":"Liberation Sans","labelFontSize":13,"labelColor":"#a8a8a8","labelExpr":"datum.label + '  '","strokeColor":"#d0d0d0","fillColor":"#ffffff"}}
}},
{"transform":[{"filter":"datum.m == 'MODCEL - Raster'"}],
"mark":{"type":"line","strokeWidth":2.6,"interpolate":"monotone","clip":true},
"encoding":{
"color":{"field":"m","type":"nominal","scale":{"domain":["MODCEL - Raster"],"range":["#000000"]},
"legend":{"title":null,"orient":"none","legendX":13,"legendY":10,"symbolType":"stroke","symbolSize":1156,"symbolStrokeWidth":3,"clipHeight":20,"padding":3,"symbolOffset":10,"labelOffset":4,"labelFont":"Lato","labelFontSize":11,"labelColor":"#333333","strokeColor":"#000000","fillColor":"#ffffff","encode":{"legend":{"update":{"strokeWidth":{"value":2}}}}}}
}}
],
"resolve":{"scale":{"color":"independent"}}
},
{
"width":457,"height":358,
"title":{"text":"Test 8A - Point: 6","fontWeight":400},
"data":{"name":"p3"},
"encoding":{
"x":{"field":"t","type":"quantitative","scale":{"domain":[0,200],"nice":false},"axis":{"title":"Tempo (minutos)","values":[0,20,40,60,80,100,120,140,160,180,200],"titlePadding":6}},
"y":{"field":"v","type":"quantitative","scale":{"domain":[26.7,27.2],"nice":false,"zero":false},"axis":{"title":"Nível d'água (m)","values":[26.7,26.75,26.8,26.85,26.9,26.95,27,27.05,27.1,27.15],"format":".2~f","labelPadding":7}}
},
"layer":[
{"transform":[{"filter":"datum.m != 'MODCEL - Raster'"}],
"mark":{"type":"line","strokeWidth":1.2,"interpolate":"monotone","clip":true},
"encoding":{
"color":{"field":"m","type":"nominal","scale":{"domain":["MIKE FLOOD","SOBEK","UIM","Direct RFSM","xpstorm","Flowroute-i","Infoworks ICM","ISIS 2D","JFLOW+","RFSM EDA","TUFLOW","LISFLOOD FP","ISIS Fast","ISIS Fast Dyn","Ceasg","ISIS 2D GPU","TUFLOW FV1","TUFLOW FV2","TUFLOW GPU"],"range":["#999999","#c8c8c8","#c8c8c8","#aaaaaa","#8c8c8c","#c8c8c8","#dcdcdc","#9a9a9a","#c8c8c8","#b0b0b0","#888888","#c8c8c8","#aaaaaa","#999999","#e4e4e4","#a8a8a8","#999999","#999999","#aaaaaa"]},
"legend":{"title":null,"orient":"none","legendX":306,"legendY":43,"zindex":0,"symbolType":"stroke","symbolSize":625,"symbolStrokeWidth":1.3,"clipHeight":15.8,"rowPadding":0,"padding":5,"symbolOffset":0,"labelOffset":7,"labelFont":"Liberation Sans","labelFontSize":13,"labelColor":"#a8a8a8","labelExpr":"datum.label + '    '","strokeColor":"#d0d0d0","fillColor":"#ffffff"}},
"strokeDash":{"field":"m","type":"nominal","scale":{"domain":["MIKE FLOOD","SOBEK","UIM","Direct RFSM","xpstorm","Flowroute-i","Infoworks ICM","ISIS 2D","JFLOW+","RFSM EDA","TUFLOW","LISFLOOD FP","ISIS Fast","ISIS Fast Dyn","Ceasg","ISIS 2D GPU","TUFLOW FV1","TUFLOW FV2","TUFLOW GPU"],"range":[[1,0],[6,3,2,3],[6,3,2,3],[4,3],[6,3,2,3],[4,3],[1,0],[1,0],[1,0],[6,3,2,3],[1,0],[4,3],[4,3],[6,3,2,3],[1,0],[1,0],[4,3],[6,3,2,3],[1,3]]},
"legend":{"title":null,"orient":"none","legendX":306,"legendY":43,"zindex":0,"symbolType":"stroke","symbolSize":625,"symbolStrokeWidth":1.3,"clipHeight":15.8,"rowPadding":0,"padding":5,"symbolOffset":0,"labelOffset":7,"labelFont":"Liberation Sans","labelFontSize":13,"labelColor":"#a8a8a8","labelExpr":"datum.label + '    '","strokeColor":"#d0d0d0","fillColor":"#ffffff"}}
}},
{"transform":[{"filter":"datum.m == 'MODCEL - Raster'"}],
"mark":{"type":"line","strokeWidth":2.6,"interpolate":"linear","clip":true},
"encoding":{
"color":{"field":"m","type":"nominal","scale":{"domain":["MODCEL - Raster"],"range":["#000000"]},
"legend":{"title":null,"orient":"none","legendX":307,"legendY":7,"symbolType":"stroke","symbolSize":1156,"symbolStrokeWidth":3,"clipHeight":20,"padding":3,"symbolOffset":10,"labelOffset":4,"labelFont":"Lato","labelFontSize":11,"labelColor":"#333333","strokeColor":"#000000","fillColor":"#ffffff","encode":{"legend":{"update":{"strokeWidth":{"value":2}}}}}}
}}
],
"resolve":{"scale":{"color":"independent"}}
},
{
"width":443,"height":349,
"title":{"text":"Teste 8A - Ponto: 6","fontWeight":400},
"data":{"name":"p4"},
"encoding":{
"x":{"field":"t","type":"quantitative","scale":{"domain":[0,80],"nice":false},"axis":{"title":"Tempo (minutos)","values":[0,10,20,30,40,50,60,70,80],"labelFlush":true,"titlePadding":8}},
"y":{"field":"v","type":"quantitative","scale":{"domain":[0,2],"nice":false},"axis":{"title":"Velocidade (m)","values":[0,0.2,0.4,0.6,0.8,1,1.2,1.4,1.6,1.8,2],"format":".1~f","labelPadding":4}}
},
"layer":[
{"transform":[{"filter":"datum.m != 'MODCEL - Raster'"}],
"mark":{"type":"line","strokeWidth":1.2,"interpolate":"linear","clip":true},
"encoding":{
"color":{"field":"m","type":"nominal","scale":{"domain":["MIKE FLOOD","SOBEK","UIM","xpstorm","Flowroute-i","Infoworks ICM","ISIS 2D","JFLOW+","RFSM EDA","TUFLOW","LISFLOOD FP","Ceasg","ISIS 2D GPU","TUFLOW FV1","TUFLOW FV2","TUFLOW GPU"],"range":["#999999","#c8c8c8","#c8c8c8","#8c8c8c","#c8c8c8","#dcdcdc","#9a9a9a","#c8c8c8","#b0b0b0","#888888","#c8c8c8","#e4e4e4","#a8a8a8","#999999","#999999","#aaaaaa"]},
"legend":{"title":null,"orient":"none","legendX":306,"legendY":5,"zindex":0,"symbolType":"stroke","symbolSize":625,"symbolStrokeWidth":1.3,"clipHeight":15.7,"rowPadding":0,"padding":5,"symbolOffset":0,"labelOffset":7,"labelFont":"Liberation Sans","labelFontSize":13,"labelColor":"#a8a8a8","labelExpr":"datum.label + '   '","strokeColor":"#d0d0d0","fillColor":"#ffffff"}},
"strokeDash":{"field":"m","type":"nominal","scale":{"domain":["MIKE FLOOD","SOBEK","UIM","xpstorm","Flowroute-i","Infoworks ICM","ISIS 2D","JFLOW+","RFSM EDA","TUFLOW","LISFLOOD FP","Ceasg","ISIS 2D GPU","TUFLOW FV1","TUFLOW FV2","TUFLOW GPU"],"range":[[1,0],[6,3,2,3],[6,3,2,3],[5,3],[4,3],[1,0],[1,0],[1,0],[5,3],[1,0],[4,3],[1,0],[1,0],[4,3],[6,3,2,3],[1,3]]},
"legend":{"title":null,"orient":"none","legendX":306,"legendY":5,"zindex":0,"symbolType":"stroke","symbolSize":625,"symbolStrokeWidth":1.3,"clipHeight":15.7,"rowPadding":0,"padding":5,"symbolOffset":0,"labelOffset":7,"labelFont":"Liberation Sans","labelFontSize":13,"labelColor":"#a8a8a8","labelExpr":"datum.label + '   '","strokeColor":"#d0d0d0","fillColor":"#ffffff"}}
}},
{"transform":[{"filter":"datum.m == 'MODCEL - Raster'"}],
"mark":{"type":"line","strokeWidth":2.6,"interpolate":"linear","clip":true},
"encoding":{
"color":{"field":"m","type":"nominal","scale":{"domain":["MODCEL - Raster"],"range":["#000000"]},
"legend":{"title":null,"orient":"none","legendX":298,"legendY":306,"symbolType":"stroke","symbolSize":1156,"symbolStrokeWidth":3,"clipHeight":20,"padding":3,"symbolOffset":10,"labelOffset":4,"labelFont":"Lato","labelFontSize":11,"labelColor":"#333333","strokeColor":"#000000","fillColor":"#ffffff","encode":{"legend":{"update":{"strokeWidth":{"value":2}}}}}}
}}
],
"resolve":{"scale":{"color":"independent"}}
}
],
"config":{
"font":"Lato",
"view":{"stroke":"#1a1a1a","strokeWidth":1.6},
"axis":{"labelFont":"Liberation Sans","labelFontSize":9,"labelColor":"#a0a0a0","titleFont":"Lato","titleFontSize":15,"titleFontWeight":"normal","titleColor":"#111111","ticks":false,"domain":false,"gridColor":"#dedede","gridDash":[2,2],"gridWidth":0.8},
"axisY":{"titlePadding":3},
"title":{"font":"Lato","fontSize":18,"fontWeight":"normal","color":"#000000","offset":12,"anchor":"middle","frame":"group"}
}
}
